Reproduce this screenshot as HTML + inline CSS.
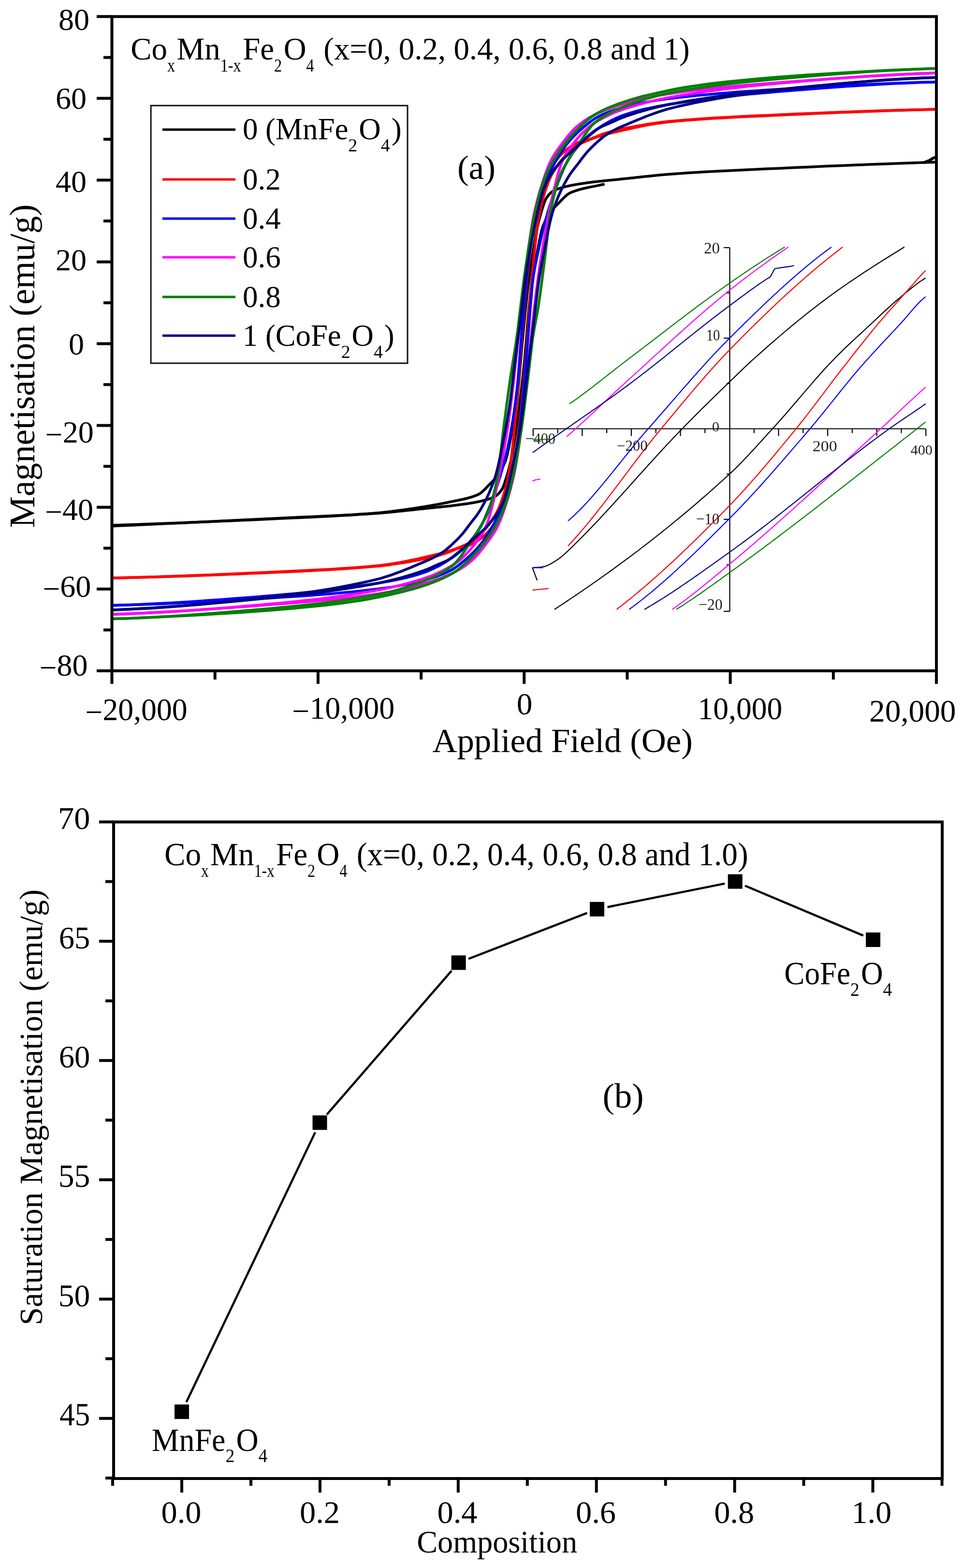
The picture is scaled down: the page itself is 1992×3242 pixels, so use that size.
<!DOCTYPE html>
<html><head><meta charset="utf-8"><title>Magnetisation figure</title>
<style>html,body{margin:0;padding:0;background:#fff;}svg{display:block;}</style></head>
<body><svg width="1992" height="3242" viewBox="0 0 1992 3242" style="font-family:'Liberation Serif','Times New Roman',serif;font-kerning:none">
<rect width="1992" height="3242" fill="#fff"/>
<polyline points="231.5,1086 252.1,1085.4 272.7,1084.7 293.3,1084 313.8,1083.2 334.4,1082.5 355,1081.7 375.6,1080.9 396.2,1080.1 416.8,1079.3 437.3,1078.4 457.9,1077.6 478.5,1076.7 499.1,1075.8 519.7,1074.9 540.3,1074 560.8,1073 581.4,1072.1 602,1071.1 622.6,1070.2 643.2,1069.2 663.8,1068.2 684.3,1067.2 704.9,1066.1 725.5,1064.9 746.1,1063.6 766.7,1062.3 787.3,1060.8 807.8,1058.9 828.4,1056.8 832.3,1056.4 836.1,1056 839.9,1055.6 843.7,1055.2 847.6,1054.8 851.4,1054.4 855.2,1053.9 859,1053.5 862.9,1053.1 866.7,1052.7 870.5,1052.3 874.3,1051.9 878.2,1051.5 882,1051.1 885.8,1050.7 889.6,1050.3 893.5,1049.9 897.3,1049.5 901.1,1049.1 905,1048.8 908.8,1048.4 912.6,1048 916.4,1047.6 920.3,1047.2 924.1,1046.8 927.9,1046.4 931.7,1046 935.6,1045.5 939.4,1045.1 943.2,1044.6 947,1044.1 950.9,1043.6 954.7,1043.1 958.5,1042.6 962.4,1042 966.2,1041.5 970,1040.9 973.8,1040.2 977.7,1039.6 978.5,1039.5 979.3,1039.3 980.1,1039.2 980.9,1039 981.8,1038.9 982.6,1038.7 983.4,1038.6 984.2,1038.4 985.1,1038.2 985.9,1038.1 986.7,1037.9 987.5,1037.7 988.4,1037.6 989.2,1037.4 990,1037.2 990.8,1037.1 991.6,1036.9 992.5,1036.7 993.3,1036.5 994.1,1036.3 994.9,1036.1 995.8,1035.9 996.6,1035.7 997.4,1035.5 998.2,1035.3 999.1,1035.1 999.9,1034.9 1000.7,1034.7 1001.5,1034.5 1002.3,1034.3 1003.2,1034.1 1004,1033.9 1004.8,1033.7 1005.6,1033.4 1006.5,1033.2 1007.3,1033 1008.1,1032.7 1008.9,1032.5 1009.8,1032.2 1010.6,1032 1011.4,1031.7 1012.2,1031.4 1013.1,1031.1 1013.9,1030.8 1014.7,1030.5 1015.5,1030.2 1016.3,1029.9 1017.2,1029.6 1018,1029.2 1018.8,1028.8 1019.6,1028.5 1020.5,1028.1 1021.3,1027.7 1022.1,1027.3 1022.9,1026.9 1023.8,1026.4 1024.6,1026 1025.4,1025.5 1026.2,1024.9 1027,1024.4 1027.9,1023.7 1028.7,1023.1 1029.5,1022.3 1030.3,1021.6 1031.2,1020.7 1032,1019.9 1032.8,1019 1033.6,1018 1034.5,1017 1035.3,1015.9 1036.1,1014.8 1036.9,1013.6 1037.7,1012.4 1038.6,1011.2 1039.4,1009.7 1040.2,1008 1041,1006.1 1041.9,1004 1042.7,1001.8 1043.5,999.5 1044.3,997 1045.2,994.5 1046,991.9 1046.8,989.3 1047.6,986.6 1048.4,984 1049.3,981.3 1050.1,978.4 1050.9,975.5 1051.7,972.5 1052.6,969.4 1053.4,966.2 1054.2,962.9 1055,959.5 1055.9,956 1056.7,952.4 1057.5,948.6 1058.3,944.8 1059.1,940.8 1060,936.6 1060.8,932.1 1061.6,927.5 1062.4,922.7 1063.3,917.7 1064.1,912.6 1064.9,907.3 1065.7,901.9 1066.6,896.4 1067.4,890.8 1068.2,885.2 1069,879.4 1069.8,873.6 1070.7,867.7 1071.5,861.7 1072.3,855.6 1073.1,849.4 1074,843 1074.8,836.6 1075.6,830 1076.4,823.4 1077.3,816.5 1078.1,809.6 1078.9,802.5 1079.7,795.3 1080.5,787.9 1081.4,780.4 1082.2,772.8 1083,764.9 1083.8,757 1084.7,748.7 1085.5,739.8 1086.3,730.4 1087.1,720.7 1088,711 1088.8,701.1 1089.6,691 1090.4,680.6 1091.2,670.3 1092.1,660.2 1092.9,650.5 1093.7,641.3 1094.5,632.7 1095.4,624.5 1096.2,616.3 1097,608 1097.8,599.8 1098.7,591.8 1099.5,584.4 1100.3,577.2 1101.1,570.9 1101.9,565.8 1102.8,561.1 1103.6,556.8 1104.4,552.8 1105.2,549 1106.1,545.4 1106.9,541.8 1107.7,538.3 1108.5,534.7 1109.4,531 1110.2,527.2 1111,523.1 1111.8,518.9 1112.6,514.7 1113.5,510.4 1114.3,506 1115.1,501.7 1115.9,497.4 1116.8,493.2 1117.6,489.2 1118.4,485.3 1119.2,481.6 1120.1,478.2 1120.9,475 1121.7,472.2 1122.5,469.7 1123.3,467.4 1124.2,465.3 1125,463.2 1125.8,461.2 1126.6,459.3 1127.5,457.5 1128.3,455.8 1129.1,454.1 1129.9,452.5 1130.8,450.9 1131.6,449.5 1132.4,448 1133.2,446.6 1134,445.3 1134.9,444 1135.7,442.8 1136.5,441.5 1137.3,440.3 1138.2,439.2 1139,438 1139.8,436.9 1140.6,435.9 1141.5,434.9 1142.3,433.9 1143.1,432.9 1143.9,432 1144.7,431 1145.6,430.1 1146.4,429.3 1147.2,428.4 1148,427.6 1148.9,426.7 1149.7,425.9 1150.5,425.1 1151.3,424.3 1152.2,423.4 1153,422.6 1153.8,421.8 1154.6,421 1155.4,420.1 1156.3,419.3 1157.1,418.4 1157.9,417.6 1158.7,416.7 1159.6,415.9 1160.4,415 1161.2,414.1 1162,413.2 1162.9,412.4 1163.7,411.5 1164.5,410.7 1165.3,409.8 1166.2,409 1167,408.2 1167.8,407.4 1168.6,406.6 1169.4,405.9 1170.3,405.1 1171.1,404.4 1171.9,403.7 1172.7,403 1173.6,402.4 1174.4,401.8 1175.2,401.2 1176,400.6 1176.9,400.1 1177.7,399.6 1178.5,399.2 1179.3,398.8 1180.1,398.4 1181,398.1 1181.8,397.7 1182.6,397.4 1183.4,397.1 1184.3,396.8 1185.1,396.4 1185.9,396.1 1186.7,395.8 1187.6,395.5 1188.4,395.2 1189.2,394.9 1190,394.6 1190.8,394.4 1194.7,393.1 1198.5,392 1202.3,390.9 1206.1,390 1210,389.1 1213.8,388.2 1217.6,387.4 1221.5,386.6 1225.3,385.9 1229.1,385.1 1232.9,384.4 1236.8,383.6 1240.6,382.8 1244.4,382 1248.2,381.3 1250.5,380.8" fill="none" stroke="#000000" stroke-width="5.5" stroke-linejoin="round" />
<polyline points="231.5,1087.7 252.1,1086.8 272.7,1085.9 293.3,1085 313.8,1084 334.4,1083.1 355,1082.1 375.6,1081.2 396.2,1080.2 416.8,1079.2 437.3,1078.3 457.9,1077.3 478.5,1076.3 499.1,1075.3 519.7,1074.3 540.3,1073.2 560.8,1072.2 581.4,1071.2 602,1070.2 622.6,1069.3 643.2,1068.4 663.8,1067.5 684.3,1066.5 704.9,1065.5 725.5,1064.4 746.1,1063.1 766.7,1061.7 787.3,1060 807.8,1057.8 828.4,1055.1 832.3,1054.6 836.1,1054 839.9,1053.4 843.7,1052.9 847.6,1052.3 851.4,1051.7 855.2,1051.2 859,1050.6 862.9,1050 866.7,1049.4 870.5,1048.8 874.3,1048.2 878.2,1047.6 882,1047 885.8,1046.3 889.6,1045.7 893.5,1045 897.3,1044.3 901.1,1043.6 905,1042.9 908.8,1042.2 912.6,1041.5 916.4,1040.7 920.3,1039.9 924.1,1039.2 927.9,1038.4 931.7,1037.6 935.6,1036.8 939.4,1036.1 943.2,1035.3 947,1034.6 950.9,1033.8 954.7,1033 958.5,1032.1 962.4,1031.2 966.2,1030.3 970,1029.2 973.8,1028.1 977.7,1026.8 978.5,1026.6 979.3,1026.3 980.1,1026 980.9,1025.7 981.8,1025.4 982.6,1025.1 983.4,1024.8 984.2,1024.4 985.1,1024.1 985.9,1023.8 986.7,1023.5 987.5,1023.1 988.4,1022.8 989.2,1022.4 990,1022 990.8,1021.6 991.6,1021.1 992.5,1020.6 993.3,1020 994.1,1019.4 994.9,1018.8 995.8,1018.2 996.6,1017.5 997.4,1016.8 998.2,1016.1 999.1,1015.3 999.9,1014.6 1000.7,1013.8 1001.5,1013 1002.3,1012.2 1003.2,1011.4 1004,1010.5 1004.8,1009.7 1005.6,1008.8 1006.5,1008 1007.3,1007.1 1008.1,1006.2 1008.9,1005.3 1009.8,1004.5 1010.6,1003.6 1011.4,1002.8 1012.2,1001.9 1013.1,1001.1 1013.9,1000.2 1014.7,999.4 1015.5,998.6 1016.3,997.8 1017.2,996.9 1018,996.1 1018.8,995.3 1019.6,994.5 1020.5,993.6 1021.3,992.8 1022.1,991.9 1022.9,991.1 1023.8,990.2 1024.6,989.2 1025.4,988.3 1026.2,987.3 1027,986.3 1027.9,985.3 1028.7,984.3 1029.5,983.2 1030.3,982 1031.2,980.9 1032,979.7 1032.8,978.4 1033.6,977.2 1034.5,975.9 1035.3,974.6 1036.1,973.2 1036.9,971.7 1037.7,970.3 1038.6,968.7 1039.4,967.1 1040.2,965.4 1041,963.7 1041.9,961.9 1042.7,960 1043.5,958 1044.3,955.9 1045.2,953.8 1046,951.5 1046.8,949.1 1047.6,946.3 1048.4,943.3 1049.3,940 1050.1,936.5 1050.9,932.7 1051.7,928.8 1052.6,924.8 1053.4,920.6 1054.2,916.3 1055,912 1055.9,907.6 1056.7,903.1 1057.5,898.7 1058.3,894.2 1059.1,889.7 1060,884.3 1060.8,878.3 1061.6,872 1062.4,865.5 1063.3,859.3 1064.1,853.5 1064.9,848.4 1065.7,844.3 1066.6,841.4 1067.4,840.1 1068.2,839.2 1069,834.8 1069.8,828.4 1070.7,820 1071.5,811.2 1072.3,802 1073.1,792.7 1074,783.1 1074.8,773.3 1075.6,763.5 1076.4,753.7 1077.3,743.9 1078.1,734.2 1078.9,724.6 1079.7,715.3 1080.5,706.2 1081.4,697.2 1082.2,688.5 1083,679.8 1083.8,671.2 1084.7,662.6 1085.5,654 1086.3,645.8 1087.1,637.9 1088,630.2 1088.8,622.6 1089.6,615.1 1090.4,607.8 1091.2,600.8 1092.1,593.9 1092.9,587.3 1093.7,580.9 1094.5,574.8 1095.4,568.8 1096.2,562.9 1097,557.2 1097.8,551.6 1098.7,546.1 1099.5,540.7 1100.3,535.3 1101.1,529.9 1101.9,524.5 1102.8,519.1 1103.6,513.8 1104.4,508.6 1105.2,503.5 1106.1,498.5 1106.9,493.7 1107.7,489.1 1108.5,484.6 1109.4,480.4 1110.2,476.4 1111,472.6 1111.8,468.9 1112.6,465.2 1113.5,461.7 1114.3,458.3 1115.1,455 1115.9,451.8 1116.8,448.7 1117.6,445.7 1118.4,442.8 1119.2,439.9 1120.1,437.2 1120.9,434.6 1121.7,431.9 1122.5,429.3 1123.3,426.7 1124.2,424.2 1125,421.7 1125.8,419.4 1126.6,417.2 1127.5,415.1 1128.3,413.2 1129.1,411.5 1129.9,410 1130.8,408.8 1131.6,407.6 1132.4,406.4 1133.2,405.3 1134,404.2 1134.9,403.2 1135.7,402.2 1136.5,401.3 1137.3,400.5 1138.2,399.6 1139,398.9 1139.8,398.1 1140.6,397.5 1141.5,396.8 1142.3,396.3 1143.1,395.7 1143.9,395.2 1144.7,394.8 1145.6,394.3 1146.4,393.9 1147.2,393.5 1148,393.1 1148.9,392.7 1149.7,392.4 1150.5,392 1151.3,391.6 1152.2,391.3 1153,391 1153.8,390.7 1154.6,390.4 1155.4,390.1 1156.3,389.8 1157.1,389.5 1157.9,389.2 1158.7,389 1159.6,388.7 1160.4,388.5 1161.2,388.2 1162,388 1162.9,387.8 1163.7,387.5 1164.5,387.3 1165.3,387.1 1166.2,386.9 1167,386.7 1167.8,386.5 1168.6,386.3 1169.4,386.1 1170.3,385.9 1171.1,385.7 1171.9,385.5 1172.7,385.3 1173.6,385.1 1174.4,384.9 1175.2,384.7 1176,384.5 1176.9,384.3 1177.7,384.1 1178.5,384 1179.3,383.8 1180.1,383.6 1181,383.5 1181.8,383.3 1182.6,383.1 1183.4,383 1184.3,382.8 1185.1,382.6 1185.9,382.5 1186.7,382.3 1187.6,382.2 1188.4,382 1189.2,381.9 1190,381.7 1190.8,381.6 1194.7,381 1198.5,380.3 1202.3,379.7 1206.1,379.2 1210,378.6 1213.8,378.1 1217.6,377.6 1221.5,377.1 1225.3,376.6 1229.1,376.1 1232.9,375.7 1236.8,375.2 1240.6,374.8 1244.4,374.4 1248.2,374 1252.1,373.6 1255.9,373.2 1259.7,372.8 1263.5,372.4 1267.4,372.1 1271.2,371.7 1275,371.3 1278.9,370.9 1282.7,370.5 1286.5,370.1 1290.3,369.7 1294.2,369.3 1298,368.9 1301.8,368.5 1305.6,368.1 1309.5,367.7 1313.3,367.3 1317.1,366.8 1320.9,366.4 1324.8,366 1328.6,365.6 1332.4,365.2 1336.2,364.8 1340.1,364.4 1360.7,362.3 1381.2,360.4 1401.8,358.9 1422.4,357.6 1443,356.3 1463.6,355.1 1484.2,354 1504.7,353 1525.3,352 1545.9,351 1566.5,350.1 1587.1,349.1 1607.7,348.2 1628.2,347.2 1648.8,346.3 1669.4,345.4 1690,344.5 1710.6,343.6 1731.2,342.8 1751.7,341.9 1772.3,341.1 1792.9,340.3 1813.5,339.5 1834.1,338.7 1854.7,338 1875.2,337.2 1895.8,336.5 1916.4,335.8 1937,335.2" fill="none" stroke="#000000" stroke-width="5.5" stroke-linejoin="round" />
<polyline points="231.5,1195.1 252.1,1194.7 272.7,1194.2 293.3,1193.7 313.8,1193.2 334.4,1192.6 355,1191.9 375.6,1191.2 396.2,1190.5 416.8,1189.8 437.3,1189 457.9,1188.2 478.5,1187.3 499.1,1186.5 519.7,1185.6 540.3,1184.7 560.8,1183.8 581.4,1182.8 602,1181.9 622.6,1180.9 643.2,1179.9 663.8,1178.8 684.3,1177.7 704.9,1176.4 725.5,1175 746.1,1173.5 766.7,1171.8 787.3,1169.9 807.8,1167.4 828.4,1164.4 832.3,1163.8 836.1,1163.2 839.9,1162.5 843.7,1161.9 847.6,1161.2 851.4,1160.5 855.2,1159.8 859,1159.1 862.9,1158.4 866.7,1157.7 870.5,1156.9 874.3,1156.2 878.2,1155.4 882,1154.6 885.8,1153.8 889.6,1152.9 893.5,1152 897.3,1151 901.1,1150 905,1149 908.8,1147.9 912.6,1146.8 916.4,1145.7 920.3,1144.5 924.1,1143.1 927.9,1141.6 931.7,1140.1 935.6,1138.5 939.4,1136.9 943.2,1135.3 947,1133.9 950.9,1132.5 954.7,1131.4 958.5,1130.4 962.4,1129.6 966.2,1128.7 970,1127.6 973.8,1126.1 977.7,1124.3 978.5,1123.9 979.3,1123.5 980.1,1123 980.9,1122.6 981.8,1122.1 982.6,1121.6 983.4,1121.1 984.2,1120.6 985.1,1120.1 985.9,1119.6 986.7,1119.1 987.5,1118.5 988.4,1118 989.2,1117.4 990,1116.9 990.8,1116.3 991.6,1115.7 992.5,1115.1 993.3,1114.5 994.1,1113.9 994.9,1113.3 995.8,1112.7 996.6,1112 997.4,1111.4 998.2,1110.7 999.1,1110 999.9,1109.3 1000.7,1108.6 1001.5,1107.8 1002.3,1107.1 1003.2,1106.3 1004,1105.6 1004.8,1104.8 1005.6,1103.9 1006.5,1103.1 1007.3,1102.3 1008.1,1101.4 1008.9,1100.5 1009.8,1099.6 1010.6,1098.6 1011.4,1097.7 1012.2,1096.7 1013.1,1095.7 1013.9,1094.7 1014.7,1093.7 1015.5,1092.6 1016.3,1091.5 1017.2,1090.4 1018,1089.3 1018.8,1088.1 1019.6,1086.9 1020.5,1085.6 1021.3,1084.2 1022.1,1082.8 1022.9,1081.3 1023.8,1079.7 1024.6,1078 1025.4,1076.2 1026.2,1074.5 1027,1072.6 1027.9,1070.7 1028.7,1068.8 1029.5,1066.8 1030.3,1064.8 1031.2,1062.8 1032,1060.7 1032.8,1058.6 1033.6,1056.5 1034.5,1054.4 1035.3,1052.3 1036.1,1050.2 1036.9,1048.1 1037.7,1046 1038.6,1043.9 1039.4,1041.8 1040.2,1039.6 1041,1037.5 1041.9,1035.3 1042.7,1033 1043.5,1030.8 1044.3,1028.5 1045.2,1026.1 1046,1023.7 1046.8,1021.3 1047.6,1018.8 1048.4,1016.2 1049.3,1013.6 1050.1,1010.9 1050.9,1008.2 1051.7,1005.4 1052.6,1002.6 1053.4,999.8 1054.2,996.9 1055,993.9 1055.9,990.8 1056.7,987.7 1057.5,984.5 1058.3,981.1 1059.1,977.7 1060,974.1 1060.8,970.4 1061.6,966.5 1062.4,962.5 1063.3,958.3 1064.1,953.9 1064.9,949.1 1065.7,944.1 1066.6,938.9 1067.4,933.4 1068.2,927.7 1069,921.8 1069.8,915.7 1070.7,909.5 1071.5,903.1 1072.3,896.6 1073.1,890 1074,883.3 1074.8,876.5 1075.6,869.4 1076.4,862.1 1077.3,854.6 1078.1,846.8 1078.9,838.8 1079.7,830.5 1080.5,822.1 1081.4,813.5 1082.2,804.8 1083,795.9 1083.8,786.9 1084.7,777.7 1085.5,768.1 1086.3,758.3 1087.1,748.1 1088,737.6 1088.8,727 1089.6,716.3 1090.4,705.4 1091.2,694 1092.1,682.4 1092.9,670.7 1093.7,659.1 1094.5,647.7 1095.4,636.5 1096.2,625.3 1097,614.5 1097.8,604.1 1098.7,594.2 1099.5,584.3 1100.3,574.3 1101.1,564.6 1101.9,556 1102.8,547.5 1103.6,539.2 1104.4,531 1105.2,523 1106.1,515.2 1106.9,507.5 1107.7,500.1 1108.5,493 1109.4,486.1 1110.2,479.5 1111,473.2 1111.8,467.2 1112.6,461.6 1113.5,456.4 1114.3,451.6 1115.1,447 1115.9,442.6 1116.8,438.4 1117.6,434.3 1118.4,430.4 1119.2,426.6 1120.1,423 1120.9,419.5 1121.7,416.1 1122.5,412.9 1123.3,409.8 1124.2,406.8 1125,404 1125.8,401.2 1126.6,398.5 1127.5,396 1128.3,393.4 1129.1,391 1129.9,388.6 1130.8,386.2 1131.6,383.9 1132.4,381.6 1133.2,379.4 1134,377.3 1134.9,375.2 1135.7,373.2 1136.5,371.2 1137.3,369.3 1138.2,367.5 1139,365.7 1139.8,364 1140.6,362.4 1141.5,360.8 1142.3,359.3 1143.1,357.9 1143.9,356.5 1144.7,355.2 1145.6,353.9 1146.4,352.6 1147.2,351.3 1148,350.1 1148.9,348.8 1149.7,347.6 1150.5,346.4 1151.3,345.2 1152.2,344 1153,342.8 1153.8,341.6 1154.6,340.5 1155.4,339.4 1156.3,338.2 1157.1,337.1 1157.9,336 1158.7,334.9 1159.6,333.8 1160.4,332.8 1161.2,331.7 1162,330.7 1162.9,329.6 1163.7,328.6 1164.5,327.6 1165.3,326.6 1166.2,325.7 1167,324.7 1167.8,323.8 1168.6,322.8 1169.4,321.9 1170.3,321 1171.1,320.1 1171.9,319.2 1172.7,318.4 1173.6,317.5 1174.4,316.7 1175.2,315.9 1176,315 1176.9,314.3 1177.7,313.5 1178.5,312.7 1179.3,311.9 1180.1,311.2 1181,310.5 1181.8,309.8 1182.6,309.1 1183.4,308.4 1184.3,307.7 1185.1,307 1185.9,306.4 1186.7,305.8 1187.6,305.2 1188.4,304.6 1189.2,304 1190,303.4 1190.8,302.9 1194.7,300.5 1198.5,298.4 1202.3,296.4 1206.1,294.6 1210,292.9 1213.8,291.2 1217.6,289.6 1221.5,288.1 1225.3,286.7 1229.1,285.3 1232.9,284 1236.8,282.7 1240.6,281.5 1244.4,280.4 1248.2,279.3 1252.1,278.2 1255.9,277.2 1259.7,276.2 1263.5,275.2 1267.4,274.3 1271.2,273.4 1275,272.5 1278.9,271.6 1282.7,270.7 1286.5,269.8 1290.3,268.9 1294.2,268 1298,267.2 1301.8,266.3 1305.6,265.5 1309.5,264.6 1313.3,263.8 1317.1,263 1320.9,262.2 1324.8,261.4 1328.6,260.6 1332.4,259.9 1336.2,259.1 1340.1,258.4 1360.7,254.9 1381.2,252.2 1401.8,250.2 1422.4,248.5 1443,246.9 1463.6,245.6 1484.2,244.3 1504.7,243.2 1525.3,242.1 1545.9,241.1 1566.5,240.2 1587.1,239.2 1607.7,238.3 1628.2,237.3 1648.8,236.4 1669.4,235.4 1690,234.5 1710.6,233.7 1731.2,232.8 1751.7,232 1772.3,231.2 1792.9,230.4 1813.5,229.7 1834.1,229 1854.7,228.3 1875.2,227.7 1895.8,227.1 1916.4,226.6 1937,226.1" fill="none" stroke="#ff0000" stroke-width="5.5" stroke-linejoin="round" />
<polyline points="231.5,1195.1 252.1,1194.6 272.7,1194.1 293.3,1193.5 313.8,1192.9 334.4,1192.2 355,1191.5 375.6,1190.8 396.2,1190 416.8,1189.2 437.3,1188.4 457.9,1187.5 478.5,1186.7 499.1,1185.8 519.7,1184.8 540.3,1183.9 560.8,1182.9 581.4,1182 602,1181 622.6,1180.1 643.2,1179.1 663.8,1178 684.3,1176.9 704.9,1175.6 725.5,1174.3 746.1,1172.7 766.7,1171 787.3,1169 807.8,1166.3 828.4,1162.8 832.3,1162.1 836.1,1161.3 839.9,1160.6 843.7,1159.8 847.6,1159 851.4,1158.2 855.2,1157.4 859,1156.6 862.9,1155.7 866.7,1154.9 870.5,1154 874.3,1153.2 878.2,1152.3 882,1151.4 885.8,1150.5 889.6,1149.6 893.5,1148.7 897.3,1147.8 901.1,1146.9 905,1146 908.8,1145 912.6,1144 916.4,1143 920.3,1141.9 924.1,1140.8 927.9,1139.7 931.7,1138.5 935.6,1137.2 939.4,1135.9 943.2,1134.5 947,1133.1 950.9,1131.6 954.7,1130 958.5,1128.3 962.4,1126.6 966.2,1124.8 970,1122.8 973.8,1120.7 977.7,1118.3 978.5,1117.8 979.3,1117.2 980.1,1116.6 980.9,1116 981.8,1115.4 982.6,1114.8 983.4,1114.2 984.2,1113.5 985.1,1112.8 985.9,1112.1 986.7,1111.4 987.5,1110.7 988.4,1110 989.2,1109.3 990,1108.5 990.8,1107.7 991.6,1106.9 992.5,1106.2 993.3,1105.3 994.1,1104.5 994.9,1103.7 995.8,1102.8 996.6,1102 997.4,1101.1 998.2,1100.2 999.1,1099.3 999.9,1098.4 1000.7,1097.4 1001.5,1096.5 1002.3,1095.5 1003.2,1094.6 1004,1093.6 1004.8,1092.6 1005.6,1091.6 1006.5,1090.5 1007.3,1089.5 1008.1,1088.4 1008.9,1087.4 1009.8,1086.3 1010.6,1085.2 1011.4,1084.1 1012.2,1083 1013.1,1081.8 1013.9,1080.7 1014.7,1079.6 1015.5,1078.4 1016.3,1077.2 1017.2,1076 1018,1074.8 1018.8,1073.6 1019.6,1072.4 1020.5,1071.1 1021.3,1069.9 1022.1,1068.6 1022.9,1067.3 1023.8,1066 1024.6,1064.7 1025.4,1063.3 1026.2,1061.9 1027,1060.4 1027.9,1058.8 1028.7,1057.2 1029.5,1055.5 1030.3,1053.7 1031.2,1051.9 1032,1050 1032.8,1048 1033.6,1046 1034.5,1043.9 1035.3,1041.8 1036.1,1039.6 1036.9,1037.3 1037.7,1035 1038.6,1032.6 1039.4,1030.2 1040.2,1027.8 1041,1025.2 1041.9,1022.7 1042.7,1020 1043.5,1017.3 1044.3,1014.4 1045.2,1011.5 1046,1008.4 1046.8,1005.2 1047.6,1001.9 1048.4,998.4 1049.3,994.8 1050.1,991 1050.9,987.1 1051.7,983 1052.6,978.7 1053.4,974.3 1054.2,969.6 1055,964.7 1055.9,959.4 1056.7,953.6 1057.5,947.5 1058.3,941 1059.1,934.2 1060,927 1060.8,919.6 1061.6,911.8 1062.4,903.9 1063.3,895.6 1064.1,887.2 1064.9,878.6 1065.7,869.8 1066.6,860.9 1067.4,851.9 1068.2,842.7 1069,833.5 1069.8,824.3 1070.7,814.8 1071.5,804.8 1072.3,794 1073.1,782.8 1074,771.3 1074.8,759.6 1075.6,747.8 1076.4,736.1 1077.3,724.7 1078.1,713.7 1078.9,703 1079.7,692.4 1080.5,681.8 1081.4,671.3 1082.2,661.1 1083,651.2 1083.8,641.6 1084.7,632.5 1085.5,623.5 1086.3,614.7 1087.1,606.1 1088,597.6 1088.8,589.3 1089.6,581.2 1090.4,573.3 1091.2,565.6 1092.1,558.1 1092.9,550.9 1093.7,543.9 1094.5,537.2 1095.4,530.6 1096.2,524 1097,517.6 1097.8,511.3 1098.7,505.1 1099.5,499.1 1100.3,493.3 1101.1,487.6 1101.9,482.2 1102.8,477 1103.6,472 1104.4,467.3 1105.2,462.9 1106.1,458.7 1106.9,454.7 1107.7,450.9 1108.5,447.1 1109.4,443.6 1110.2,440.1 1111,436.8 1111.8,433.5 1112.6,430.4 1113.5,427.3 1114.3,424.4 1115.1,421.4 1115.9,418.6 1116.8,415.8 1117.6,413 1118.4,410.3 1119.2,407.6 1120.1,405 1120.9,402.4 1121.7,399.9 1122.5,397.5 1123.3,395.1 1124.2,392.7 1125,390.4 1125.8,388.2 1126.6,385.9 1127.5,383.7 1128.3,381.6 1129.1,379.4 1129.9,377.3 1130.8,375.2 1131.6,373.1 1132.4,371 1133.2,368.9 1134,366.8 1134.9,364.7 1135.7,362.6 1136.5,360.5 1137.3,358.4 1138.2,356.4 1139,354.4 1139.8,352.4 1140.6,350.5 1141.5,348.6 1142.3,346.7 1143.1,345 1143.9,343.2 1144.7,341.5 1145.6,339.9 1146.4,338.4 1147.2,337 1148,335.6 1148.9,334.3 1149.7,333.1 1150.5,331.9 1151.3,330.8 1152.2,329.7 1153,328.6 1153.8,327.5 1154.6,326.5 1155.4,325.5 1156.3,324.5 1157.1,323.5 1157.9,322.6 1158.7,321.6 1159.6,320.7 1160.4,319.8 1161.2,318.9 1162,318.1 1162.9,317.3 1163.7,316.4 1164.5,315.6 1165.3,314.9 1166.2,314.1 1167,313.4 1167.8,312.6 1168.6,311.9 1169.4,311.2 1170.3,310.5 1171.1,309.8 1171.9,309.2 1172.7,308.5 1173.6,307.9 1174.4,307.3 1175.2,306.7 1176,306.1 1176.9,305.5 1177.7,304.9 1178.5,304.3 1179.3,303.8 1180.1,303.2 1181,302.7 1181.8,302.1 1182.6,301.6 1183.4,301.1 1184.3,300.6 1185.1,300.1 1185.9,299.6 1186.7,299.1 1187.6,298.6 1188.4,298.2 1189.2,297.7 1190,297.3 1190.8,296.9 1194.7,295.1 1198.5,293.6 1202.3,292.5 1206.1,291.6 1210,290.8 1213.8,289.8 1217.6,288.7 1221.5,287.3 1225.3,285.9 1229.1,284.3 1232.9,282.7 1236.8,281.1 1240.6,279.6 1244.4,278.1 1248.2,276.7 1252.1,275.5 1255.9,274.4 1259.7,273.3 1263.5,272.2 1267.4,271.2 1271.2,270.2 1275,269.2 1278.9,268.3 1282.7,267.4 1286.5,266.6 1290.3,265.8 1294.2,265 1298,264.3 1301.8,263.5 1305.6,262.8 1309.5,262.1 1313.3,261.4 1317.1,260.7 1320.9,260 1324.8,259.3 1328.6,258.7 1332.4,258 1336.2,257.4 1340.1,256.8 1360.7,253.8 1381.2,251.3 1401.8,249.4 1422.4,247.7 1443,246.2 1463.6,244.8 1484.2,243.5 1504.7,242.4 1525.3,241.3 1545.9,240.3 1566.5,239.3 1587.1,238.4 1607.7,237.4 1628.2,236.5 1648.8,235.6 1669.4,234.7 1690,233.9 1710.6,233 1731.2,232.2 1751.7,231.4 1772.3,230.7 1792.9,230 1813.5,229.3 1834.1,228.6 1854.7,228 1875.2,227.5 1895.8,227 1916.4,226.5 1937,226.1" fill="none" stroke="#ff0000" stroke-width="5.5" stroke-linejoin="round" />
<polyline points="231.5,1251.7 252.1,1251.2 272.7,1250.6 293.3,1249.9 313.8,1249.2 334.4,1248.4 355,1247.5 375.6,1246.6 396.2,1245.6 416.8,1244.6 437.3,1243.5 457.9,1242.4 478.5,1241.3 499.1,1240.1 519.7,1238.9 540.3,1237.6 560.8,1236.4 581.4,1235.1 602,1233.8 622.6,1232.4 643.2,1230.9 663.8,1229.3 684.3,1227.7 704.9,1225.8 725.5,1223.9 746.1,1221.8 766.7,1219.5 787.3,1217 807.8,1214.1 828.4,1210.6 832.3,1209.9 836.1,1209.2 839.9,1208.4 843.7,1207.7 847.6,1206.9 851.4,1206 855.2,1205.2 859,1204.4 862.9,1203.5 866.7,1202.6 870.5,1201.7 874.3,1200.7 878.2,1199.7 882,1198.7 885.8,1197.6 889.6,1196.4 893.5,1195.2 897.3,1194 901.1,1192.6 905,1191.3 908.8,1189.8 912.6,1188.3 916.4,1186.8 920.3,1185.1 924.1,1183.4 927.9,1181.6 931.7,1179.7 935.6,1177.6 939.4,1175.1 943.2,1172.5 947,1169.7 950.9,1166.7 954.7,1163.7 958.5,1160.5 962.4,1157.4 966.2,1154.1 970,1150.7 973.8,1147.2 977.7,1143.5 978.5,1142.7 979.3,1141.9 980.1,1141.1 980.9,1140.2 981.8,1139.4 982.6,1138.5 983.4,1137.6 984.2,1136.8 985.1,1135.9 985.9,1135 986.7,1134.1 987.5,1133.2 988.4,1132.2 989.2,1131.3 990,1130.3 990.8,1129.4 991.6,1128.4 992.5,1127.4 993.3,1126.4 994.1,1125.4 994.9,1124.4 995.8,1123.4 996.6,1122.3 997.4,1121.3 998.2,1120.2 999.1,1119.1 999.9,1118 1000.7,1116.9 1001.5,1115.8 1002.3,1114.6 1003.2,1113.4 1004,1112.3 1004.8,1111.1 1005.6,1109.9 1006.5,1108.7 1007.3,1107.4 1008.1,1106.2 1008.9,1104.9 1009.8,1103.6 1010.6,1102.3 1011.4,1101 1012.2,1099.7 1013.1,1098.3 1013.9,1097 1014.7,1095.6 1015.5,1094.2 1016.3,1092.8 1017.2,1091.3 1018,1089.9 1018.8,1088.4 1019.6,1086.9 1020.5,1085.4 1021.3,1083.9 1022.1,1082.3 1022.9,1080.8 1023.8,1079.2 1024.6,1077.6 1025.4,1076 1026.2,1074.3 1027,1072.7 1027.9,1071 1028.7,1069.3 1029.5,1067.6 1030.3,1065.8 1031.2,1064.1 1032,1062.3 1032.8,1060.5 1033.6,1058.6 1034.5,1056.7 1035.3,1054.7 1036.1,1052.7 1036.9,1050.6 1037.7,1048.4 1038.6,1046.2 1039.4,1044 1040.2,1041.7 1041,1039.3 1041.9,1036.9 1042.7,1034.5 1043.5,1032 1044.3,1029.5 1045.2,1026.9 1046,1024.3 1046.8,1021.7 1047.6,1019.1 1048.4,1016.4 1049.3,1013.7 1050.1,1010.9 1050.9,1008.1 1051.7,1005.3 1052.6,1002.5 1053.4,999.6 1054.2,996.6 1055,993.6 1055.9,990.5 1056.7,987.3 1057.5,984.1 1058.3,980.7 1059.1,977.3 1060,973.7 1060.8,970.1 1061.6,966.3 1062.4,962.4 1063.3,958.4 1064.1,954.2 1064.9,949.9 1065.7,945.3 1066.6,940.6 1067.4,935.8 1068.2,930.8 1069,925.6 1069.8,920.3 1070.7,914.8 1071.5,909.2 1072.3,903.4 1073.1,897.4 1074,891.3 1074.8,885.1 1075.6,878.7 1076.4,872 1077.3,864.9 1078.1,857.5 1078.9,849.8 1079.7,841.7 1080.5,833.5 1081.4,825 1082.2,816.4 1083,807.7 1083.8,798.8 1084.7,789.9 1085.5,780.7 1086.3,771.2 1087.1,761.5 1088,751.5 1088.8,741.4 1089.6,731.2 1090.4,720.9 1091.2,710.5 1092.1,699.9 1092.9,689 1093.7,677.9 1094.5,667 1095.4,656.4 1096.2,646.3 1097,636.6 1097.8,627.1 1098.7,617.7 1099.5,607.9 1100.3,597.6 1101.1,588.7 1101.9,582.1 1102.8,575.9 1103.6,570.2 1104.4,564.8 1105.2,559.8 1106.1,555.1 1106.9,550.6 1107.7,546.3 1108.5,542.2 1109.4,538.3 1110.2,534.4 1111,530.6 1111.8,526.8 1112.6,523 1113.5,519.1 1114.3,515.2 1115.1,511.2 1115.9,507.3 1116.8,503.5 1117.6,499.7 1118.4,496 1119.2,492.3 1120.1,488.7 1120.9,485.2 1121.7,481.7 1122.5,478.2 1123.3,474.9 1124.2,471.6 1125,468.4 1125.8,465.2 1126.6,462.1 1127.5,459.1 1128.3,456.1 1129.1,453.1 1129.9,450.2 1130.8,447.3 1131.6,444.4 1132.4,441.6 1133.2,438.8 1134,436 1134.9,433.3 1135.7,430.6 1136.5,427.9 1137.3,425.3 1138.2,422.7 1139,420.1 1139.8,417.6 1140.6,415.1 1141.5,412.6 1142.3,410.2 1143.1,407.8 1143.9,405.4 1144.7,403 1145.6,400.7 1146.4,398.4 1147.2,396.2 1148,394 1148.9,391.8 1149.7,389.6 1150.5,387.4 1151.3,385.2 1152.2,383 1153,380.9 1153.8,378.7 1154.6,376.6 1155.4,374.4 1156.3,372.3 1157.1,370.2 1157.9,368.1 1158.7,366.1 1159.6,364 1160.4,362 1161.2,360 1162,358 1162.9,356 1163.7,354.1 1164.5,352.2 1165.3,350.3 1166.2,348.4 1167,346.6 1167.8,344.8 1168.6,343.1 1169.4,341.4 1170.3,339.7 1171.1,338.1 1171.9,336.5 1172.7,334.9 1173.6,333.4 1174.4,331.9 1175.2,330.5 1176,329.1 1176.9,327.8 1177.7,326.5 1178.5,325.2 1179.3,324 1180.1,322.8 1181,321.6 1181.8,320.4 1182.6,319.2 1183.4,318.1 1184.3,316.9 1185.1,315.8 1185.9,314.7 1186.7,313.6 1187.6,312.5 1188.4,311.4 1189.2,310.3 1190,309.2 1190.8,308.2 1194.7,303.5 1198.5,299 1202.3,294.8 1206.1,290.7 1210,287 1213.8,283.4 1217.6,280 1221.5,276.8 1225.3,273.8 1229.1,271 1232.9,268.3 1236.8,265.7 1240.6,263.2 1244.4,260.7 1248.2,258.4 1252.1,256.1 1255.9,253.9 1259.7,251.7 1263.5,249.7 1267.4,247.8 1271.2,245.9 1275,244.1 1278.9,242.4 1282.7,240.8 1286.5,239.3 1290.3,237.8 1294.2,236.5 1298,235.3 1301.8,234.1 1305.6,232.9 1309.5,231.8 1313.3,230.7 1317.1,229.7 1320.9,228.7 1324.8,227.7 1328.6,226.7 1332.4,225.8 1336.2,225 1340.1,224.1 1360.7,219.9 1381.2,216.3 1401.8,213 1422.4,209.9 1443,207 1463.6,204.3 1484.2,201.8 1504.7,199.4 1525.3,197.2 1545.9,195.1 1566.5,193.2 1587.1,191.4 1607.7,189.6 1628.2,187.9 1648.8,186.3 1669.4,184.7 1690,183.1 1710.6,181.5 1731.2,180.1 1751.7,178.6 1772.3,177.3 1792.9,176 1813.5,174.8 1834.1,173.6 1854.7,172.6 1875.2,171.7 1895.8,170.8 1916.4,170.1 1937,169.5" fill="none" stroke="#0000ff" stroke-width="5.5" stroke-linejoin="round" />
<polyline points="231.5,1251.7 252.1,1251.1 272.7,1250.4 293.3,1249.5 313.8,1248.6 334.4,1247.6 355,1246.4 375.6,1245.2 396.2,1243.9 416.8,1242.6 437.3,1241.1 457.9,1239.7 478.5,1238.1 499.1,1236.5 519.7,1234.9 540.3,1233.3 560.8,1231.6 581.4,1229.8 602,1228 622.6,1226.1 643.2,1224 663.8,1221.8 684.3,1219.4 704.9,1216.9 725.5,1214.2 746.1,1211.3 766.7,1208.2 787.3,1204.9 807.8,1201.3 828.4,1197.1 832.3,1196.2 836.1,1195.4 839.9,1194.5 843.7,1193.5 847.6,1192.5 851.4,1191.5 855.2,1190.5 859,1189.4 862.9,1188.3 866.7,1187.1 870.5,1185.9 874.3,1184.7 878.2,1183.4 882,1181.9 885.8,1180.4 889.6,1178.8 893.5,1177.1 897.3,1175.3 901.1,1173.4 905,1171.5 908.8,1169.5 912.6,1167.3 916.4,1165.1 920.3,1162.8 924.1,1160.5 927.9,1158 931.7,1155.5 935.6,1152.9 939.4,1150.2 943.2,1147.4 947,1144.4 950.9,1141.2 954.7,1137.8 958.5,1134.2 962.4,1130.5 966.2,1126.4 970,1122.2 973.8,1117.7 977.7,1113 978.5,1112 979.3,1110.9 980.1,1109.8 980.9,1108.7 981.8,1107.6 982.6,1106.5 983.4,1105.4 984.2,1104.3 985.1,1103.1 985.9,1102 986.7,1100.8 987.5,1099.6 988.4,1098.4 989.2,1097.2 990,1096 990.8,1094.7 991.6,1093.4 992.5,1092.1 993.3,1090.7 994.1,1089.3 994.9,1087.8 995.8,1086.3 996.6,1084.7 997.4,1083.1 998.2,1081.5 999.1,1079.8 999.9,1078.1 1000.7,1076.4 1001.5,1074.6 1002.3,1072.8 1003.2,1070.9 1004,1069 1004.8,1067.1 1005.6,1065.2 1006.5,1063.2 1007.3,1061.2 1008.1,1059.2 1008.9,1057.2 1009.8,1055.1 1010.6,1053.1 1011.4,1051 1012.2,1048.9 1013.1,1046.8 1013.9,1044.6 1014.7,1042.5 1015.5,1040.3 1016.3,1038.2 1017.2,1036 1018,1033.8 1018.8,1031.6 1019.6,1029.4 1020.5,1027.2 1021.3,1025 1022.1,1022.8 1022.9,1020.5 1023.8,1018.2 1024.6,1015.8 1025.4,1013.4 1026.2,1011 1027,1008.6 1027.9,1006.1 1028.7,1003.6 1029.5,1001.1 1030.3,998.5 1031.2,995.9 1032,993.3 1032.8,990.6 1033.6,987.9 1034.5,985.2 1035.3,982.4 1036.1,979.6 1036.9,976.8 1037.7,973.9 1038.6,971 1039.4,968.1 1040.2,965.1 1041,962.1 1041.9,959.1 1042.7,956 1043.5,952.9 1044.3,949.8 1045.2,946.6 1046,943.3 1046.8,940 1047.6,936.6 1048.4,933.2 1049.3,929.6 1050.1,926 1050.9,922.2 1051.7,918.4 1052.6,914.4 1053.4,910.3 1054.2,906.1 1055,901.8 1055.9,897.3 1056.7,892.8 1057.5,888.2 1058.3,883.5 1059.1,878.6 1060,873.6 1060.8,868.5 1061.6,863.2 1062.4,857.8 1063.3,852.2 1064.1,846.4 1064.9,840.4 1065.7,834.2 1066.6,827.8 1067.4,821.2 1068.2,814.4 1069,807.4 1069.8,800.1 1070.7,792.4 1071.5,783.7 1072.3,774 1073.1,763.7 1074,752.9 1074.8,741.9 1075.6,730.9 1076.4,720.1 1077.3,709.8 1078.1,699.7 1078.9,689.5 1079.7,679.4 1080.5,669.2 1081.4,659.2 1082.2,649.4 1083,639.8 1083.8,630.6 1084.7,621.7 1085.5,613 1086.3,604.3 1087.1,595.8 1088,587.5 1088.8,579.3 1089.6,571.4 1090.4,563.7 1091.2,556.4 1092.1,549.3 1092.9,542.6 1093.7,536.2 1094.5,530 1095.4,523.9 1096.2,518 1097,512.2 1097.8,506.5 1098.7,501 1099.5,495.7 1100.3,490.5 1101.1,485.5 1101.9,480.6 1102.8,475.9 1103.6,471.4 1104.4,467 1105.2,462.8 1106.1,458.8 1106.9,454.9 1107.7,451.1 1108.5,447.5 1109.4,443.9 1110.2,440.5 1111,437.1 1111.8,433.9 1112.6,430.7 1113.5,427.6 1114.3,424.6 1115.1,421.6 1115.9,418.7 1116.8,415.9 1117.6,413.1 1118.4,410.3 1119.2,407.5 1120.1,404.8 1120.9,402.1 1121.7,399.5 1122.5,396.9 1123.3,394.3 1124.2,391.7 1125,389.2 1125.8,386.7 1126.6,384.3 1127.5,381.9 1128.3,379.5 1129.1,377.2 1129.9,375 1130.8,372.8 1131.6,370.6 1132.4,368.5 1133.2,366.5 1134,364.5 1134.9,362.6 1135.7,360.7 1136.5,358.9 1137.3,357.1 1138.2,355.4 1139,353.6 1139.8,351.9 1140.6,350.2 1141.5,348.5 1142.3,346.9 1143.1,345.2 1143.9,343.6 1144.7,342 1145.6,340.4 1146.4,338.9 1147.2,337.3 1148,335.8 1148.9,334.3 1149.7,332.8 1150.5,331.3 1151.3,329.9 1152.2,328.4 1153,327 1153.8,325.6 1154.6,324.2 1155.4,322.9 1156.3,321.5 1157.1,320.2 1157.9,318.9 1158.7,317.6 1159.6,316.3 1160.4,315 1161.2,313.8 1162,312.5 1162.9,311.3 1163.7,310.1 1164.5,308.9 1165.3,307.8 1166.2,306.6 1167,305.4 1167.8,304.3 1168.6,303.2 1169.4,302.1 1170.3,301 1171.1,299.9 1171.9,298.9 1172.7,297.8 1173.6,296.8 1174.4,295.8 1175.2,294.8 1176,293.8 1176.9,292.8 1177.7,291.8 1178.5,290.9 1179.3,289.9 1180.1,289 1181,288 1181.8,287.1 1182.6,286.2 1183.4,285.3 1184.3,284.4 1185.1,283.6 1185.9,282.7 1186.7,281.8 1187.6,281 1188.4,280.1 1189.2,279.3 1190,278.5 1190.8,277.7 1194.7,274 1198.5,270.5 1202.3,267.1 1206.1,263.8 1210,260.7 1213.8,257.5 1217.6,254.5 1221.5,251.5 1225.3,248.7 1229.1,246.1 1232.9,243.6 1236.8,241.5 1240.6,239.6 1244.4,237.8 1248.2,236.1 1252.1,234.4 1255.9,232.9 1259.7,231.4 1263.5,229.9 1267.4,228.6 1271.2,227.2 1275,226 1278.9,224.8 1282.7,223.6 1286.5,222.5 1290.3,221.5 1294.2,220.5 1298,219.5 1301.8,218.6 1305.6,217.7 1309.5,216.8 1313.3,216 1317.1,215.2 1320.9,214.3 1324.8,213.5 1328.6,212.8 1332.4,212 1336.2,211.3 1340.1,210.6 1360.7,207.1 1381.2,204.2 1401.8,201.7 1422.4,199.4 1443,197.3 1463.6,195.4 1484.2,193.5 1504.7,191.9 1525.3,190.3 1545.9,188.8 1566.5,187.4 1587.1,186.1 1607.7,184.8 1628.2,183.6 1648.8,182.3 1669.4,181.1 1690,179.9 1710.6,178.8 1731.2,177.7 1751.7,176.6 1772.3,175.6 1792.9,174.6 1813.5,173.7 1834.1,172.8 1854.7,172 1875.2,171.3 1895.8,170.6 1916.4,170 1937,169.5" fill="none" stroke="#0000ff" stroke-width="5.5" stroke-linejoin="round" />
<polyline points="231.5,1270.3 252.1,1269.5 272.7,1268.6 293.3,1267.7 313.8,1266.6 334.4,1265.5 355,1264.4 375.6,1263.2 396.2,1261.9 416.8,1260.6 437.3,1259.2 457.9,1257.8 478.5,1256.3 499.1,1254.8 519.7,1253.3 540.3,1251.7 560.8,1250.1 581.4,1248.5 602,1246.9 622.6,1245.2 643.2,1243.4 663.8,1241.6 684.3,1239.6 704.9,1237.5 725.5,1235.2 746.1,1232.7 766.7,1230 787.3,1227 807.8,1223.4 828.4,1219.1 832.3,1218.3 836.1,1217.4 839.9,1216.5 843.7,1215.5 847.6,1214.6 851.4,1213.6 855.2,1212.7 859,1211.7 862.9,1210.7 866.7,1209.6 870.5,1208.6 874.3,1207.5 878.2,1206.4 882,1205.3 885.8,1204.2 889.6,1203 893.5,1201.8 897.3,1200.5 901.1,1199.2 905,1197.9 908.8,1196.5 912.6,1195 916.4,1193.5 920.3,1191.9 924.1,1190.3 927.9,1188.7 931.7,1186.9 935.6,1185.1 939.4,1183.3 943.2,1181.3 947,1179.2 950.9,1177 954.7,1174.7 958.5,1172.2 962.4,1169.6 966.2,1166.8 970,1163.8 973.8,1160.7 977.7,1157.4 978.5,1156.7 979.3,1155.9 980.1,1155.1 980.9,1154.3 981.8,1153.4 982.6,1152.6 983.4,1151.7 984.2,1150.9 985.1,1150 985.9,1149.1 986.7,1148.1 987.5,1147.2 988.4,1146.3 989.2,1145.3 990,1144.3 990.8,1143.4 991.6,1142.4 992.5,1141.4 993.3,1140.4 994.1,1139.4 994.9,1138.3 995.8,1137.3 996.6,1136.3 997.4,1135.2 998.2,1134.2 999.1,1133.1 999.9,1132 1000.7,1131 1001.5,1129.9 1002.3,1128.8 1003.2,1127.7 1004,1126.7 1004.8,1125.6 1005.6,1124.5 1006.5,1123.4 1007.3,1122.3 1008.1,1121.2 1008.9,1120.1 1009.8,1119 1010.6,1117.9 1011.4,1116.8 1012.2,1115.7 1013.1,1114.6 1013.9,1113.4 1014.7,1112.3 1015.5,1111.1 1016.3,1109.9 1017.2,1108.7 1018,1107.5 1018.8,1106.3 1019.6,1105 1020.5,1103.7 1021.3,1102.4 1022.1,1101.1 1022.9,1099.8 1023.8,1098.4 1024.6,1097 1025.4,1095.5 1026.2,1094.1 1027,1092.6 1027.9,1091 1028.7,1089.5 1029.5,1087.8 1030.3,1086.2 1031.2,1084.4 1032,1082.6 1032.8,1080.7 1033.6,1078.8 1034.5,1076.8 1035.3,1074.8 1036.1,1072.6 1036.9,1070.5 1037.7,1068.3 1038.6,1066 1039.4,1063.8 1040.2,1061.4 1041,1059.1 1041.9,1056.7 1042.7,1054.2 1043.5,1051.8 1044.3,1049.3 1045.2,1046.8 1046,1044.3 1046.8,1041.7 1047.6,1039.2 1048.4,1036.6 1049.3,1033.9 1050.1,1031.3 1050.9,1028.6 1051.7,1025.8 1052.6,1023.1 1053.4,1020.2 1054.2,1017.3 1055,1014.4 1055.9,1011.4 1056.7,1008.3 1057.5,1005.1 1058.3,1001.9 1059.1,998.6 1060,995.2 1060.8,991.8 1061.6,988.2 1062.4,984.5 1063.3,980.8 1064.1,976.9 1064.9,972.9 1065.7,968.7 1066.6,964.3 1067.4,959.8 1068.2,955 1069,950.1 1069.8,945.1 1070.7,939.9 1071.5,934.6 1072.3,929.1 1073.1,923.5 1074,917.9 1074.8,912.1 1075.6,906.3 1076.4,900.3 1077.3,894.3 1078.1,888.2 1078.9,882.1 1079.7,875.9 1080.5,869.3 1081.4,862.5 1082.2,855.4 1083,848.1 1083.8,840.8 1084.7,833.4 1085.5,825.9 1086.3,818.3 1087.1,810.6 1088,802.9 1088.8,795 1089.6,787.1 1090.4,779.1 1091.2,771.1 1092.1,763.1 1092.9,755 1093.7,746.9 1094.5,738.7 1095.4,730.6 1096.2,722.5 1097,714.4 1097.8,706.2 1098.7,697.9 1099.5,689.5 1100.3,681.2 1101.1,673.3 1101.9,665.8 1102.8,658.4 1103.6,651.1 1104.4,643.9 1105.2,636.7 1106.1,629.7 1106.9,622.8 1107.7,615.9 1108.5,609.2 1109.4,602.6 1110.2,596.1 1111,589.8 1111.8,583.5 1112.6,577.4 1113.5,571.3 1114.3,565.5 1115.1,559.7 1115.9,554 1116.8,548.5 1117.6,543 1118.4,537.6 1119.2,532.3 1120.1,527.1 1120.9,522 1121.7,517 1122.5,512 1123.3,507.1 1124.2,502.2 1125,497.4 1125.8,492.6 1126.6,487.9 1127.5,483.3 1128.3,478.6 1129.1,474 1129.9,469.5 1130.8,464.9 1131.6,460.5 1132.4,456 1133.2,451.7 1134,447.4 1134.9,443.1 1135.7,439 1136.5,434.9 1137.3,430.9 1138.2,427 1139,423.2 1139.8,419.5 1140.6,415.9 1141.5,412.3 1142.3,408.7 1143.1,405.1 1143.9,401.6 1144.7,398 1145.6,394.4 1146.4,390.9 1147.2,387.4 1148,384 1148.9,380.6 1149.7,377.2 1150.5,373.9 1151.3,370.6 1152.2,367.4 1153,364.3 1153.8,361.3 1154.6,358.3 1155.4,355.4 1156.3,352.6 1157.1,349.8 1157.9,347.2 1158.7,344.7 1159.6,342.3 1160.4,339.9 1161.2,337.7 1162,335.7 1162.9,333.7 1163.7,331.9 1164.5,330.1 1165.3,328.4 1166.2,326.7 1167,325.1 1167.8,323.6 1168.6,322 1169.4,320.6 1170.3,319.1 1171.1,317.7 1171.9,316.4 1172.7,315.1 1173.6,313.8 1174.4,312.5 1175.2,311.3 1176,310.1 1176.9,308.9 1177.7,307.7 1178.5,306.6 1179.3,305.5 1180.1,304.4 1181,303.3 1181.8,302.2 1182.6,301.1 1183.4,300 1184.3,299 1185.1,297.9 1185.9,296.9 1186.7,295.8 1187.6,294.8 1188.4,293.7 1189.2,292.7 1190,291.7 1190.8,290.7 1194.7,286.1 1198.5,281.7 1202.3,277.5 1206.1,273.6 1210,269.9 1213.8,266.4 1217.6,263.1 1221.5,260.1 1225.3,257.3 1229.1,254.7 1232.9,252.2 1236.8,249.9 1240.6,247.7 1244.4,245.6 1248.2,243.6 1252.1,241.6 1255.9,239.7 1259.7,237.9 1263.5,236.1 1267.4,234.4 1271.2,232.8 1275,231.2 1278.9,229.7 1282.7,228.3 1286.5,226.9 1290.3,225.7 1294.2,224.4 1298,223.2 1301.8,222 1305.6,220.8 1309.5,219.6 1313.3,218.5 1317.1,217.4 1320.9,216.3 1324.8,215.2 1328.6,214.2 1332.4,213.2 1336.2,212.2 1340.1,211.2 1360.7,206.3 1381.2,202.1 1401.8,198.4 1422.4,195 1443,191.8 1463.6,188.8 1484.2,186 1504.7,183.3 1525.3,180.9 1545.9,178.6 1566.5,176.5 1587.1,174.5 1607.7,172.6 1628.2,170.8 1648.8,169 1669.4,167.2 1690,165.5 1710.6,163.8 1731.2,162.2 1751.7,160.7 1772.3,159.2 1792.9,157.8 1813.5,156.5 1834.1,155.3 1854.7,154.2 1875.2,153.2 1895.8,152.3 1916.4,151.5 1937,150.9" fill="none" stroke="#ff00ff" stroke-width="5.5" stroke-linejoin="round" />
<polyline points="231.5,1270.3 252.1,1269.7 272.7,1268.9 293.3,1268 313.8,1267 334.4,1265.9 355,1264.7 375.6,1263.4 396.2,1262 416.8,1260.5 437.3,1259 457.9,1257.4 478.5,1255.7 499.1,1254 519.7,1252.2 540.3,1250.4 560.8,1248.6 581.4,1246.7 602,1244.7 622.6,1242.6 643.2,1240.3 663.8,1237.9 684.3,1235.2 704.9,1232.4 725.5,1229.4 746.1,1226.2 766.7,1222.8 787.3,1219.1 807.8,1214.9 828.4,1210 832.3,1209 836.1,1208 839.9,1207 843.7,1206 847.6,1204.9 851.4,1203.8 855.2,1202.7 859,1201.6 862.9,1200.4 866.7,1199.2 870.5,1198 874.3,1196.8 878.2,1195.5 882,1194.3 885.8,1192.9 889.6,1191.5 893.5,1190 897.3,1188.4 901.1,1186.8 905,1185.1 908.8,1183.3 912.6,1181.5 916.4,1179.6 920.3,1177.6 924.1,1175.6 927.9,1173.5 931.7,1171.3 935.6,1169 939.4,1166.5 943.2,1163.9 947,1161.1 950.9,1158.1 954.7,1154.8 958.5,1151.3 962.4,1147.6 966.2,1143.7 970,1139.5 973.8,1135.1 977.7,1130.5 978.5,1129.5 979.3,1128.5 980.1,1127.5 980.9,1126.4 981.8,1125.4 982.6,1124.3 983.4,1123.3 984.2,1122.2 985.1,1121.2 985.9,1120.1 986.7,1119 987.5,1117.9 988.4,1116.8 989.2,1115.7 990,1114.6 990.8,1113.5 991.6,1112.3 992.5,1111.1 993.3,1109.9 994.1,1108.7 994.9,1107.4 995.8,1106.1 996.6,1104.8 997.4,1103.5 998.2,1102.1 999.1,1100.6 999.9,1099.2 1000.7,1097.6 1001.5,1096.1 1002.3,1094.5 1003.2,1092.8 1004,1091.1 1004.8,1089.3 1005.6,1087.5 1006.5,1085.5 1007.3,1083.5 1008.1,1081.3 1008.9,1078.9 1009.8,1076.5 1010.6,1074 1011.4,1071.4 1012.2,1068.6 1013.1,1065.8 1013.9,1062.9 1014.7,1059.9 1015.5,1056.9 1016.3,1053.8 1017.2,1050.6 1018,1047.3 1018.8,1044 1019.6,1040.6 1020.5,1037.2 1021.3,1033.8 1022.1,1030.3 1022.9,1026.8 1023.8,1023.2 1024.6,1019.6 1025.4,1016.1 1026.2,1012.5 1027,1008.9 1027.9,1005.3 1028.7,1001.7 1029.5,998 1030.3,994.2 1031.2,990.3 1032,986.3 1032.8,982.2 1033.6,978.1 1034.5,973.8 1035.3,969.5 1036.1,965.2 1036.9,960.7 1037.7,956.3 1038.6,951.7 1039.4,947.2 1040.2,942.6 1041,937.9 1041.9,933.3 1042.7,928.6 1043.5,923.8 1044.3,919.1 1045.2,914.2 1046,909.4 1046.8,904.4 1047.6,899.4 1048.4,894.3 1049.3,889.1 1050.1,883.8 1050.9,878.5 1051.7,873 1052.6,867.4 1053.4,861.6 1054.2,855.8 1055,849.7 1055.9,843.5 1056.7,837.2 1057.5,830.6 1058.3,824 1059.1,817.1 1060,810.2 1060.8,803.1 1061.6,795.9 1062.4,788.7 1063.3,781.3 1064.1,773.8 1064.9,766.3 1065.7,758.8 1066.6,751.2 1067.4,743.5 1068.2,735.8 1069,728.1 1069.8,720.4 1070.7,712.7 1071.5,704.7 1072.3,696.5 1073.1,688.2 1074,679.9 1074.8,671.7 1075.6,663.6 1076.4,655.6 1077.3,647.5 1078.1,639.4 1078.9,631.3 1079.7,623.3 1080.5,615.3 1081.4,607.5 1082.2,599.8 1083,592.3 1083.8,585 1084.7,577.9 1085.5,571 1086.3,564.3 1087.1,557.8 1088,551.4 1088.8,545.3 1089.6,539.3 1090.4,533.3 1091.2,527.4 1092.1,521.5 1092.9,515.6 1093.7,509.8 1094.5,504 1095.4,498.3 1096.2,492.7 1097,487.2 1097.8,481.8 1098.7,476.5 1099.5,471.4 1100.3,466.4 1101.1,461.6 1101.9,457 1102.8,452.5 1103.6,448.3 1104.4,444.3 1105.2,440.4 1106.1,436.7 1106.9,433 1107.7,429.4 1108.5,426 1109.4,422.6 1110.2,419.3 1111,416.1 1111.8,412.9 1112.6,409.8 1113.5,406.8 1114.3,403.9 1115.1,401 1115.9,398.1 1116.8,395.4 1117.6,392.6 1118.4,389.9 1119.2,387.3 1120.1,384.6 1120.9,382 1121.7,379.5 1122.5,376.9 1123.3,374.4 1124.2,371.9 1125,369.4 1125.8,367 1126.6,364.5 1127.5,362.1 1128.3,359.8 1129.1,357.4 1129.9,355.2 1130.8,352.9 1131.6,350.7 1132.4,348.6 1133.2,346.4 1134,344.4 1134.9,342.4 1135.7,340.5 1136.5,338.6 1137.3,336.8 1138.2,335 1139,333.4 1139.8,331.7 1140.6,330.2 1141.5,328.6 1142.3,327.1 1143.1,325.7 1143.9,324.2 1144.7,322.8 1145.6,321.4 1146.4,320.1 1147.2,318.8 1148,317.5 1148.9,316.2 1149.7,314.9 1150.5,313.7 1151.3,312.5 1152.2,311.3 1153,310.1 1153.8,308.9 1154.6,307.8 1155.4,306.6 1156.3,305.5 1157.1,304.4 1157.9,303.3 1158.7,302.2 1159.6,301.1 1160.4,300 1161.2,298.9 1162,297.8 1162.9,296.7 1163.7,295.6 1164.5,294.5 1165.3,293.5 1166.2,292.4 1167,291.3 1167.8,290.2 1168.6,289.2 1169.4,288.1 1170.3,287 1171.1,286 1171.9,284.9 1172.7,283.9 1173.6,282.9 1174.4,281.8 1175.2,280.8 1176,279.8 1176.9,278.8 1177.7,277.8 1178.5,276.9 1179.3,275.9 1180.1,274.9 1181,274 1181.8,273.1 1182.6,272.1 1183.4,271.2 1184.3,270.3 1185.1,269.5 1185.9,268.6 1186.7,267.8 1187.6,266.9 1188.4,266.1 1189.2,265.3 1190,264.5 1190.8,263.8 1194.7,260.5 1198.5,257.4 1202.3,254.4 1206.1,251.6 1210,249 1213.8,246.5 1217.6,244.2 1221.5,242 1225.3,239.9 1229.1,237.9 1232.9,236.1 1236.8,234.3 1240.6,232.5 1244.4,230.9 1248.2,229.3 1252.1,227.7 1255.9,226.2 1259.7,224.7 1263.5,223.3 1267.4,222 1271.2,220.7 1275,219.4 1278.9,218.2 1282.7,217 1286.5,215.9 1290.3,214.8 1294.2,213.7 1298,212.6 1301.8,211.6 1305.6,210.5 1309.5,209.5 1313.3,208.5 1317.1,207.6 1320.9,206.6 1324.8,205.7 1328.6,204.7 1332.4,203.8 1336.2,202.9 1340.1,202.1 1360.7,197.8 1381.2,194.2 1401.8,191.2 1422.4,188.5 1443,186 1463.6,183.7 1484.2,181.6 1504.7,179.6 1525.3,177.8 1545.9,176 1566.5,174.3 1587.1,172.7 1607.7,171.1 1628.2,169.5 1648.8,167.9 1669.4,166.4 1690,164.9 1710.6,163.4 1731.2,162 1751.7,160.6 1772.3,159.3 1792.9,158 1813.5,156.8 1834.1,155.7 1854.7,154.6 1875.2,153.5 1895.8,152.6 1916.4,151.7 1937,150.9" fill="none" stroke="#ff00ff" stroke-width="5.5" stroke-linejoin="round" />
<polyline points="231.5,1279.6 252.1,1279 272.7,1278.2 293.3,1277.4 313.8,1276.6 334.4,1275.6 355,1274.6 375.6,1273.5 396.2,1272.4 416.8,1271.2 437.3,1270 457.9,1268.8 478.5,1267.5 499.1,1266.2 519.7,1264.8 540.3,1263.3 560.8,1261.7 581.4,1260 602,1258.2 622.6,1256.3 643.2,1254.3 663.8,1252.2 684.3,1250 704.9,1247.4 725.5,1244.6 746.1,1241.5 766.7,1237.9 787.3,1233.8 807.8,1229.3 828.4,1224.5 832.3,1223.6 836.1,1222.7 839.9,1221.7 843.7,1220.7 847.6,1219.7 851.4,1218.6 855.2,1217.5 859,1216.4 862.9,1215.3 866.7,1214.1 870.5,1212.9 874.3,1211.7 878.2,1210.4 882,1209.1 885.8,1207.8 889.6,1206.4 893.5,1205 897.3,1203.5 901.1,1202 905,1200.5 908.8,1198.9 912.6,1197.2 916.4,1195.5 920.3,1193.8 924.1,1191.9 927.9,1189.9 931.7,1187.8 935.6,1185.6 939.4,1183.3 943.2,1180.7 947,1177.9 950.9,1174.9 954.7,1171.7 958.5,1168.3 962.4,1164.9 966.2,1161.3 970,1157.7 973.8,1153.9 977.7,1150 978.5,1149.1 979.3,1148.3 980.1,1147.4 980.9,1146.5 981.8,1145.6 982.6,1144.7 983.4,1143.8 984.2,1142.9 985.1,1142 985.9,1141.1 986.7,1140.2 987.5,1139.2 988.4,1138.3 989.2,1137.3 990,1136.4 990.8,1135.4 991.6,1134.4 992.5,1133.4 993.3,1132.4 994.1,1131.5 994.9,1130.4 995.8,1129.4 996.6,1128.4 997.4,1127.4 998.2,1126.3 999.1,1125.3 999.9,1124.3 1000.7,1123.2 1001.5,1122.1 1002.3,1121 1003.2,1119.9 1004,1118.8 1004.8,1117.7 1005.6,1116.6 1006.5,1115.4 1007.3,1114.3 1008.1,1113.1 1008.9,1111.9 1009.8,1110.8 1010.6,1109.5 1011.4,1108.3 1012.2,1107.1 1013.1,1105.9 1013.9,1104.6 1014.7,1103.3 1015.5,1102.1 1016.3,1100.8 1017.2,1099.5 1018,1098.2 1018.8,1096.8 1019.6,1095.5 1020.5,1094.1 1021.3,1092.8 1022.1,1091.4 1022.9,1090 1023.8,1088.6 1024.6,1087.2 1025.4,1085.7 1026.2,1084.3 1027,1082.9 1027.9,1081.4 1028.7,1080 1029.5,1078.5 1030.3,1077 1031.2,1075.5 1032,1073.9 1032.8,1072.4 1033.6,1070.8 1034.5,1069.1 1035.3,1067.5 1036.1,1065.8 1036.9,1064 1037.7,1062.2 1038.6,1060.3 1039.4,1058.4 1040.2,1056.5 1041,1054.5 1041.9,1052.4 1042.7,1050.3 1043.5,1048 1044.3,1045.7 1045.2,1043.4 1046,1041 1046.8,1038.5 1047.6,1035.9 1048.4,1033.3 1049.3,1030.6 1050.1,1027.8 1050.9,1025 1051.7,1022.1 1052.6,1019.1 1053.4,1016.1 1054.2,1013 1055,1009.9 1055.9,1006.7 1056.7,1003.4 1057.5,1000.1 1058.3,996.8 1059.1,993.3 1060,989.9 1060.8,986.3 1061.6,982.8 1062.4,979.1 1063.3,975.4 1064.1,971.6 1064.9,967.7 1065.7,963.6 1066.6,959.3 1067.4,954.9 1068.2,950.5 1069,945.9 1069.8,941.2 1070.7,936.4 1071.5,931.5 1072.3,926.5 1073.1,921.4 1074,916.2 1074.8,911 1075.6,905.7 1076.4,900.4 1077.3,895 1078.1,889.6 1078.9,884.1 1079.7,878.6 1080.5,872.9 1081.4,867 1082.2,860.8 1083,854.5 1083.8,848.2 1084.7,841.8 1085.5,835.3 1086.3,828.8 1087.1,822.3 1088,815.6 1088.8,809 1089.6,802.2 1090.4,795.5 1091.2,788.6 1092.1,781.8 1092.9,774.9 1093.7,768 1094.5,761.1 1095.4,754.2 1096.2,747.3 1097,740.3 1097.8,733.4 1098.7,726.4 1099.5,719.5 1100.3,712.6 1101.1,705.6 1101.9,699.6 1102.8,694.1 1103.6,688.9 1104.4,684 1105.2,679.3 1106.1,674.7 1106.9,670.3 1107.7,666 1108.5,661.7 1109.4,657.4 1110.2,653.1 1111,648.6 1111.8,644 1112.6,639.3 1113.5,634.3 1114.3,629 1115.1,623.5 1115.9,617.8 1116.8,612 1117.6,606.1 1118.4,600.1 1119.2,593.9 1120.1,587.7 1120.9,581.4 1121.7,575.1 1122.5,568.7 1123.3,562.4 1124.2,556.1 1125,549.8 1125.8,543.5 1126.6,537 1127.5,530.3 1128.3,523.4 1129.1,516.3 1129.9,509.2 1130.8,502 1131.6,494.9 1132.4,487.7 1133.2,480.7 1134,473.8 1134.9,467.1 1135.7,460.6 1136.5,454.4 1137.3,448.5 1138.2,443 1139,438 1139.8,433.3 1140.6,429.2 1141.5,425.1 1142.3,421.2 1143.1,417.4 1143.9,413.6 1144.7,410 1145.6,406.5 1146.4,403.1 1147.2,399.8 1148,396.5 1148.9,393.4 1149.7,390.4 1150.5,387.4 1151.3,384.6 1152.2,381.8 1153,379.1 1153.8,376.5 1154.6,374 1155.4,371.6 1156.3,369.2 1157.1,367 1157.9,364.8 1158.7,362.7 1159.6,360.6 1160.4,358.6 1161.2,356.7 1162,354.9 1162.9,353.2 1163.7,351.5 1164.5,349.9 1165.3,348.4 1166.2,346.9 1167,345.4 1167.8,344 1168.6,342.6 1169.4,341.2 1170.3,339.9 1171.1,338.5 1171.9,337.2 1172.7,335.8 1173.6,334.5 1174.4,333.1 1175.2,331.7 1176,330.3 1176.9,328.9 1177.7,327.5 1178.5,326.1 1179.3,324.8 1180.1,323.4 1181,322.1 1181.8,320.7 1182.6,319.4 1183.4,318.1 1184.3,316.8 1185.1,315.5 1185.9,314.2 1186.7,312.9 1187.6,311.6 1188.4,310.3 1189.2,309.1 1190,307.8 1190.8,306.6 1194.7,300.9 1198.5,295.3 1202.3,289.7 1206.1,284.1 1210,278.4 1213.8,272.9 1217.6,267.7 1221.5,262.8 1225.3,258.4 1229.1,254.6 1232.9,251.4 1236.8,248.6 1240.6,245.9 1244.4,243.3 1248.2,240.9 1252.1,238.6 1255.9,236.4 1259.7,234.3 1263.5,232.3 1267.4,230.4 1271.2,228.6 1275,226.9 1278.9,225.2 1282.7,223.6 1286.5,222.1 1290.3,220.6 1294.2,219.1 1298,217.6 1301.8,216.2 1305.6,214.8 1309.5,213.4 1313.3,212 1317.1,210.7 1320.9,209.4 1324.8,208.1 1328.6,206.9 1332.4,205.7 1336.2,204.5 1340.1,203.3 1360.7,197.6 1381.2,192.9 1401.8,189 1422.4,185.4 1443,182.2 1463.6,179.2 1484.2,176.4 1504.7,173.8 1525.3,171.5 1545.9,169.2 1566.5,167.2 1587.1,165.2 1607.7,163.3 1628.2,161.5 1648.8,159.7 1669.4,157.9 1690,156.2 1710.6,154.5 1731.2,152.9 1751.7,151.4 1772.3,149.9 1792.9,148.5 1813.5,147.2 1834.1,146 1854.7,144.9 1875.2,143.9 1895.8,143 1916.4,142.2 1937,141.6" fill="none" stroke="#008000" stroke-width="5.5" stroke-linejoin="round" />
<polyline points="231.5,1279.6 252.1,1279 272.7,1278.2 293.3,1277.3 313.8,1276.3 334.4,1275.2 355,1274 375.6,1272.7 396.2,1271.3 416.8,1269.8 437.3,1268.3 457.9,1266.7 478.5,1265 499.1,1263.3 519.7,1261.5 540.3,1259.7 560.8,1257.9 581.4,1256 602,1254 622.6,1252 643.2,1249.7 663.8,1247.4 684.3,1244.8 704.9,1242 725.5,1239 746.1,1235.8 766.7,1232.2 787.3,1228.3 807.8,1223.6 828.4,1217.9 832.3,1216.7 836.1,1215.5 839.9,1214.3 843.7,1213.1 847.6,1211.8 851.4,1210.5 855.2,1209.2 859,1207.8 862.9,1206.4 866.7,1205 870.5,1203.6 874.3,1202.1 878.2,1200.6 882,1199.1 885.8,1197.6 889.6,1196 893.5,1194.3 897.3,1192.6 901.1,1190.8 905,1188.9 908.8,1186.9 912.6,1184.8 916.4,1182.6 920.3,1180.3 924.1,1177.9 927.9,1175.3 931.7,1172.6 935.6,1169.8 939.4,1166.6 943.2,1162.8 947,1158.4 950.9,1153.5 954.7,1148.3 958.5,1142.8 962.4,1137.1 966.2,1131.5 970,1125.9 973.8,1120.3 977.7,1114.6 978.5,1113.4 979.3,1112.1 980.1,1110.9 980.9,1109.6 981.8,1108.3 982.6,1107 983.4,1105.7 984.2,1104.4 985.1,1103.1 985.9,1101.8 986.7,1100.5 987.5,1099.1 988.4,1097.8 989.2,1096.4 990,1095.1 990.8,1093.7 991.6,1092.3 992.5,1090.9 993.3,1089.5 994.1,1088.1 994.9,1086.7 995.8,1085.4 996.6,1084 997.4,1082.7 998.2,1081.3 999.1,1080 999.9,1078.6 1000.7,1077.2 1001.5,1075.8 1002.3,1074.3 1003.2,1072.8 1004,1071.3 1004.8,1069.7 1005.6,1068 1006.5,1066.3 1007.3,1064.5 1008.1,1062.6 1008.9,1060.6 1009.8,1058.5 1010.6,1056.4 1011.4,1054.2 1012.2,1052 1013.1,1049.6 1013.9,1047.2 1014.7,1044.7 1015.5,1042.1 1016.3,1039.4 1017.2,1036.6 1018,1033.8 1018.8,1030.8 1019.6,1027.8 1020.5,1024.7 1021.3,1021.4 1022.1,1018.1 1022.9,1014.7 1023.8,1011.2 1024.6,1007.6 1025.4,1003.8 1026.2,1000 1027,996.1 1027.9,992 1028.7,987.9 1029.5,983.2 1030.3,978.2 1031.2,972.7 1032,966.8 1032.8,960.6 1033.6,954.1 1034.5,947.4 1035.3,940.5 1036.1,933.5 1036.9,926.3 1037.7,919.2 1038.6,912 1039.4,904.9 1040.2,897.8 1041,890.9 1041.9,884.2 1042.7,877.7 1043.5,871.5 1044.3,865.2 1045.2,859 1046,852.7 1046.8,846.5 1047.6,840.3 1048.4,834.1 1049.3,828 1050.1,821.9 1050.9,815.8 1051.7,809.8 1052.6,803.9 1053.4,798.1 1054.2,792.3 1055,786.6 1055.9,781.1 1056.7,775.7 1057.5,770.4 1058.3,765.1 1059.1,760 1060,754.9 1060.8,749.8 1061.6,744.7 1062.4,739.7 1063.3,734.6 1064.1,729.5 1064.9,724.3 1065.7,719 1066.6,713.7 1067.4,708.3 1068.2,702.7 1069,697 1069.8,691.1 1070.7,685 1071.5,678.6 1072.3,671.9 1073.1,665 1074,658.1 1074.8,651.2 1075.6,644.4 1076.4,637.7 1077.3,630.9 1078.1,624.1 1078.9,617.3 1079.7,610.5 1080.5,603.8 1081.4,597.2 1082.2,590.6 1083,584.1 1083.8,577.8 1084.7,571.7 1085.5,565.6 1086.3,559.7 1087.1,553.9 1088,548.2 1088.8,542.7 1089.6,537.3 1090.4,532 1091.2,526.7 1092.1,521.3 1092.9,516 1093.7,510.8 1094.5,505.5 1095.4,500.4 1096.2,495.3 1097,490.2 1097.8,485.3 1098.7,480.4 1099.5,475.7 1100.3,471 1101.1,466.5 1101.9,462 1102.8,457.7 1103.6,453.6 1104.4,449.6 1105.2,445.8 1106.1,442.1 1106.9,438.4 1107.7,434.9 1108.5,431.3 1109.4,427.8 1110.2,424.4 1111,421.1 1111.8,417.8 1112.6,414.5 1113.5,411.3 1114.3,408.2 1115.1,405.1 1115.9,402.1 1116.8,399.1 1117.6,396.2 1118.4,393.4 1119.2,390.6 1120.1,387.9 1120.9,385.3 1121.7,382.7 1122.5,380.2 1123.3,377.8 1124.2,375.5 1125,373.2 1125.8,370.9 1126.6,368.8 1127.5,366.7 1128.3,364.7 1129.1,362.8 1129.9,360.9 1130.8,359 1131.6,357.2 1132.4,355.4 1133.2,353.7 1134,352.1 1134.9,350.4 1135.7,348.8 1136.5,347.3 1137.3,345.7 1138.2,344.2 1139,342.7 1139.8,341.2 1140.6,339.8 1141.5,338.3 1142.3,336.9 1143.1,335.5 1143.9,334 1144.7,332.6 1145.6,331.2 1146.4,329.8 1147.2,328.4 1148,327.1 1148.9,325.7 1149.7,324.4 1150.5,323 1151.3,321.7 1152.2,320.4 1153,319.1 1153.8,317.9 1154.6,316.6 1155.4,315.3 1156.3,314.1 1157.1,312.9 1157.9,311.7 1158.7,310.4 1159.6,309.3 1160.4,308.1 1161.2,306.9 1162,305.8 1162.9,304.6 1163.7,303.5 1164.5,302.4 1165.3,301.3 1166.2,300.2 1167,299.1 1167.8,298 1168.6,296.9 1169.4,295.9 1170.3,294.9 1171.1,293.8 1171.9,292.8 1172.7,291.8 1173.6,290.8 1174.4,289.7 1175.2,288.8 1176,287.8 1176.9,286.8 1177.7,285.8 1178.5,284.8 1179.3,283.9 1180.1,282.9 1181,282 1181.8,281 1182.6,280.1 1183.4,279.2 1184.3,278.3 1185.1,277.4 1185.9,276.5 1186.7,275.6 1187.6,274.7 1188.4,273.8 1189.2,272.9 1190,272.1 1190.8,271.2 1194.7,267.3 1198.5,263.5 1202.3,259.9 1206.1,256.3 1210,252.9 1213.8,249.5 1217.6,246.3 1221.5,243.3 1225.3,240.5 1229.1,237.9 1232.9,235.6 1236.8,233.4 1240.6,231.3 1244.4,229.3 1248.2,227.4 1252.1,225.7 1255.9,224 1259.7,222.3 1263.5,220.7 1267.4,219.2 1271.2,217.7 1275,216.2 1278.9,214.8 1282.7,213.4 1286.5,212.1 1290.3,210.8 1294.2,209.5 1298,208.3 1301.8,207.1 1305.6,205.9 1309.5,204.8 1313.3,203.7 1317.1,202.6 1320.9,201.5 1324.8,200.5 1328.6,199.5 1332.4,198.5 1336.2,197.6 1340.1,196.7 1360.7,191.9 1381.2,187.4 1401.8,183.3 1422.4,179.7 1443,176.6 1463.6,173.8 1484.2,171.2 1504.7,169 1525.3,166.9 1545.9,164.9 1566.5,163 1587.1,161.2 1607.7,159.5 1628.2,157.9 1648.8,156.4 1669.4,155 1690,153.7 1710.6,152.4 1731.2,151.2 1751.7,150 1772.3,148.8 1792.9,147.7 1813.5,146.6 1834.1,145.6 1854.7,144.6 1875.2,143.8 1895.8,143 1916.4,142.2 1937,141.6" fill="none" stroke="#008000" stroke-width="5.5" stroke-linejoin="round" />
<polyline points="231.5,1261 252.1,1260.2 272.7,1259.2 293.3,1258.1 313.8,1256.9 334.4,1255.6 355,1254.1 375.6,1252.6 396.2,1251.1 416.8,1249.4 437.3,1247.6 457.9,1245.8 478.5,1244 499.1,1242 519.7,1240.1 540.3,1238 560.8,1236 581.4,1233.9 602,1231.7 622.6,1229.5 643.2,1227 663.8,1224.5 684.3,1221.7 704.9,1218.8 725.5,1215.6 746.1,1212.2 766.7,1208.6 787.3,1204.7 807.8,1200.1 828.4,1194.8 832.3,1193.7 836.1,1192.6 839.9,1191.5 843.7,1190.4 847.6,1189.2 851.4,1188 855.2,1186.8 859,1185.6 862.9,1184.3 866.7,1183.1 870.5,1181.8 874.3,1180.5 878.2,1179.1 882,1177.7 885.8,1176.1 889.6,1174.4 893.5,1172.7 897.3,1170.9 901.1,1169.2 905,1167.5 908.8,1165.9 912.6,1164.3 916.4,1162.7 920.3,1161.1 924.1,1159.3 927.9,1157.2 931.7,1154.8 935.6,1152.1 939.4,1149.1 943.2,1146.1 947,1143 950.9,1139.9 954.7,1136.6 958.5,1133.3 962.4,1129.8 966.2,1126.4 970,1122.9 973.8,1119.3 977.7,1115.8 978.5,1115 979.3,1114.3 980.1,1113.5 980.9,1112.7 981.8,1112 982.6,1111.3 983.4,1110.5 984.2,1109.8 985.1,1109 985.9,1108.3 986.7,1107.6 987.5,1106.9 988.4,1106.1 989.2,1105.4 990,1104.7 990.8,1104 991.6,1103.2 992.5,1102.5 993.3,1101.8 994.1,1101 994.9,1100.3 995.8,1099.5 996.6,1098.8 997.4,1098 998.2,1097.3 999.1,1096.5 999.9,1095.7 1000.7,1095 1001.5,1094.2 1002.3,1093.4 1003.2,1092.6 1004,1091.8 1004.8,1090.9 1005.6,1090.1 1006.5,1089.2 1007.3,1088.4 1008.1,1087.5 1008.9,1086.6 1009.8,1085.7 1010.6,1084.8 1011.4,1083.9 1012.2,1083 1013.1,1082 1013.9,1081 1014.7,1080 1015.5,1079 1016.3,1078 1017.2,1077 1018,1075.9 1018.8,1074.9 1019.6,1073.8 1020.5,1072.8 1021.3,1071.7 1022.1,1070.6 1022.9,1069.5 1023.8,1068.3 1024.6,1067.2 1025.4,1066 1026.2,1064.8 1027,1063.6 1027.9,1062.3 1028.7,1061 1029.5,1059.7 1030.3,1058.4 1031.2,1057 1032,1055.6 1032.8,1054.2 1033.6,1052.7 1034.5,1051.2 1035.3,1049.6 1036.1,1048 1036.9,1046.4 1037.7,1044.7 1038.6,1043 1039.4,1041.2 1040.2,1039.3 1041,1037.5 1041.9,1035.5 1042.7,1033.5 1043.5,1031.2 1044.3,1028.8 1045.2,1026.3 1046,1023.6 1046.8,1020.9 1047.6,1018 1048.4,1014.9 1049.3,1011.8 1050.1,1008.6 1050.9,1005.3 1051.7,1001.9 1052.6,998.4 1053.4,994.9 1054.2,991.3 1055,987.7 1055.9,984 1056.7,980.2 1057.5,976.5 1058.3,972.7 1059.1,968.9 1060,965.1 1060.8,961.4 1061.6,957.6 1062.4,953.8 1063.3,950.1 1064.1,946.3 1064.9,942.5 1065.7,938.6 1066.6,934.7 1067.4,930.8 1068.2,926.7 1069,922.6 1069.8,918.5 1070.7,914.2 1071.5,909.9 1072.3,905.5 1073.1,901 1074,896.3 1074.8,891.6 1075.6,886.8 1076.4,881.9 1077.3,876.8 1078.1,871.5 1078.9,865.9 1079.7,860 1080.5,854 1081.4,847.9 1082.2,841.7 1083,835.4 1083.8,829 1084.7,822.7 1085.5,816.2 1086.3,809.6 1087.1,802.8 1088,795.9 1088.8,789 1089.6,782 1090.4,774.9 1091.2,767.8 1092.1,760.7 1092.9,753.6 1093.7,746.6 1094.5,739.7 1095.4,732.8 1096.2,726 1097,719.4 1097.8,712.9 1098.7,706.6 1099.5,700.6 1100.3,694.6 1101.1,688.6 1101.9,682.2 1102.8,675.6 1103.6,668.9 1104.4,662 1105.2,655 1106.1,647.9 1106.9,640.9 1107.7,633.8 1108.5,626.8 1109.4,619.9 1110.2,613.1 1111,606.5 1111.8,600.1 1112.6,593.9 1113.5,588 1114.3,582.5 1115.1,577.1 1115.9,571.9 1116.8,566.8 1117.6,561.9 1118.4,557 1119.2,552.3 1120.1,547.6 1120.9,543.1 1121.7,538.6 1122.5,534.2 1123.3,529.9 1124.2,525.6 1125,521.4 1125.8,517.3 1126.6,513.1 1127.5,509 1128.3,504.9 1129.1,500.8 1129.9,496.6 1130.8,492.5 1131.6,488.4 1132.4,484.4 1133.2,480.3 1134,476.4 1134.9,472.5 1135.7,468.6 1136.5,464.9 1137.3,461.2 1138.2,457.6 1139,454.1 1139.8,450.8 1140.6,447.6 1141.5,444.5 1142.3,441.5 1143.1,438.7 1143.9,436.1 1144.7,433.6 1145.6,431.2 1146.4,428.8 1147.2,426.4 1148,424.1 1148.9,421.8 1149.7,419.6 1150.5,417.4 1151.3,415.3 1152.2,413.2 1153,411.1 1153.8,409.1 1154.6,407.1 1155.4,405.1 1156.3,403.2 1157.1,401.3 1157.9,399.5 1158.7,397.6 1159.6,395.9 1160.4,394.1 1161.2,392.4 1162,390.7 1162.9,389 1163.7,387.3 1164.5,385.7 1165.3,384.1 1166.2,382.5 1167,381 1167.8,379.5 1168.6,378 1169.4,376.5 1170.3,375 1171.1,373.6 1171.9,372.1 1172.7,370.7 1173.6,369.3 1174.4,367.9 1175.2,366.5 1176,365.2 1176.9,363.9 1177.7,362.6 1178.5,361.3 1179.3,360.1 1180.1,358.9 1181,357.7 1181.8,356.5 1182.6,355.4 1183.4,354.3 1184.3,353.2 1185.1,352.1 1185.9,351 1186.7,350 1187.6,348.9 1188.4,347.9 1189.2,346.9 1190,345.8 1190.8,344.8 1194.7,339.9 1198.5,334.9 1202.3,329.7 1206.1,324.7 1210,319.8 1213.8,315.2 1217.6,311 1221.5,307 1225.3,303.2 1229.1,299.6 1232.9,296 1236.8,292.5 1240.6,289.1 1244.4,285.8 1248.2,282.8 1252.1,280 1255.9,277.4 1259.7,275 1263.5,272.8 1267.4,270.6 1271.2,268.6 1275,266.7 1278.9,264.8 1282.7,263.1 1286.5,261.4 1290.3,259.8 1294.2,258.2 1298,256.6 1301.8,255 1305.6,253.4 1309.5,251.8 1313.3,250.2 1317.1,248.6 1320.9,247 1324.8,245.5 1328.6,243.9 1332.4,242.4 1336.2,240.8 1340.1,239.3 1360.7,231.8 1381.2,225.4 1401.8,220.3 1422.4,215.7 1443,211.4 1463.6,207.5 1484.2,203.8 1504.7,200.4 1525.3,197.2 1545.9,194.3 1566.5,191.6 1587.1,189.1 1607.7,186.7 1628.2,184.4 1648.8,182.2 1669.4,179.9 1690,177.8 1710.6,175.7 1731.2,173.6 1751.7,171.7 1772.3,169.9 1792.9,168.2 1813.5,166.6 1834.1,165.1 1854.7,163.8 1875.2,162.6 1895.8,161.6 1916.4,160.8 1937,160.2" fill="none" stroke="#000080" stroke-width="5.5" stroke-linejoin="round" />
<polyline points="231.5,1261 252.1,1260.4 272.7,1259.6 293.3,1258.6 313.8,1257.4 334.4,1256.1 355,1254.6 375.6,1253 396.2,1251.3 416.8,1249.5 437.3,1247.6 457.9,1245.5 478.5,1243.4 499.1,1241.3 519.7,1239 540.3,1236.8 560.8,1234.5 581.4,1232.1 602,1229.6 622.6,1226.9 643.2,1224 663.8,1220.8 684.3,1217.4 704.9,1213.7 725.5,1209.8 746.1,1205.5 766.7,1200.9 787.3,1195.8 807.8,1189.4 828.4,1181.9 832.3,1180.4 836.1,1178.8 839.9,1177.3 843.7,1175.7 847.6,1174.2 851.4,1172.6 855.2,1171 859,1169.4 862.9,1167.8 866.7,1166.2 870.5,1164.6 874.3,1163 878.2,1161.4 882,1159.8 885.8,1158.1 889.6,1156.4 893.5,1154.5 897.3,1152.6 901.1,1150.6 905,1148.4 908.8,1146.2 912.6,1143.8 916.4,1141.2 920.3,1138.4 924.1,1135.4 927.9,1132.1 931.7,1128.7 935.6,1125.2 939.4,1121.6 943.2,1118 947,1114.2 950.9,1110.2 954.7,1106 958.5,1101.4 962.4,1096.5 966.2,1091.5 970,1086.3 973.8,1081.3 977.7,1076.4 978.5,1075.4 979.3,1074.3 980.1,1073.3 980.9,1072.3 981.8,1071.2 982.6,1070.2 983.4,1069.1 984.2,1068 985.1,1066.9 985.9,1065.8 986.7,1064.7 987.5,1063.5 988.4,1062.3 989.2,1061.1 990,1059.9 990.8,1058.6 991.6,1057.3 992.5,1056 993.3,1054.7 994.1,1053.3 994.9,1051.9 995.8,1050.5 996.6,1049.1 997.4,1047.6 998.2,1046.2 999.1,1044.7 999.9,1043.2 1000.7,1041.7 1001.5,1040.2 1002.3,1038.7 1003.2,1037.1 1004,1035.5 1004.8,1033.9 1005.6,1032.2 1006.5,1030.5 1007.3,1028.8 1008.1,1027.1 1008.9,1025.3 1009.8,1023.6 1010.6,1021.7 1011.4,1019.9 1012.2,1018 1013.1,1016.1 1013.9,1014.1 1014.7,1012.1 1015.5,1010.1 1016.3,1008 1017.2,1005.9 1018,1003.8 1018.8,1001.6 1019.6,999.4 1020.5,997.1 1021.3,994.8 1022.1,992.4 1022.9,990 1023.8,987.6 1024.6,985.1 1025.4,982.5 1026.2,979.7 1027,976.7 1027.9,973.6 1028.7,970.4 1029.5,967.1 1030.3,963.6 1031.2,960 1032,956.3 1032.8,952.6 1033.6,948.7 1034.5,944.8 1035.3,940.9 1036.1,936.8 1036.9,932.8 1037.7,928.7 1038.6,924.6 1039.4,920.4 1040.2,916.3 1041,912.2 1041.9,908.1 1042.7,903.9 1043.5,899.8 1044.3,895.6 1045.2,891.3 1046,887 1046.8,882.6 1047.6,878.2 1048.4,873.6 1049.3,869 1050.1,864.3 1050.9,859.4 1051.7,854.4 1052.6,849.3 1053.4,844.1 1054.2,838.7 1055,833.2 1055.9,827.2 1056.7,821 1057.5,814.6 1058.3,807.9 1059.1,801.1 1060,794.1 1060.8,787 1061.6,779.8 1062.4,772.7 1063.3,765.5 1064.1,758.4 1064.9,751.4 1065.7,744.5 1066.6,737.7 1067.4,731.2 1068.2,724.8 1069,718.5 1069.8,712.3 1070.7,706.2 1071.5,700 1072.3,693.9 1073.1,687.7 1074,681.4 1074.8,675 1075.6,668.5 1076.4,661.8 1077.3,654.9 1078.1,648 1078.9,640.9 1079.7,633.8 1080.5,626.7 1081.4,619.7 1082.2,612.7 1083,605.8 1083.8,599 1084.7,592.5 1085.5,585.9 1086.3,579.5 1087.1,573.3 1088,567.6 1088.8,562.2 1089.6,556.9 1090.4,551.7 1091.2,546.5 1092.1,541.5 1092.9,536.5 1093.7,531.6 1094.5,526.8 1095.4,522.1 1096.2,517.5 1097,512.9 1097.8,508.4 1098.7,504 1099.5,499.7 1100.3,495.4 1101.1,491.2 1101.9,487.1 1102.8,483 1103.6,479 1104.4,475.1 1105.2,471.2 1106.1,467.3 1106.9,463.5 1107.7,459.6 1108.5,455.8 1109.4,452 1110.2,448.1 1111,444.3 1111.8,440.6 1112.6,436.9 1113.5,433.2 1114.3,429.5 1115.1,426 1115.9,422.5 1116.8,419 1117.6,415.6 1118.4,412.4 1119.2,409.2 1120.1,406.1 1120.9,403.1 1121.7,400.2 1122.5,397.5 1123.3,394.8 1124.2,392.3 1125,390 1125.8,387.7 1126.6,385.7 1127.5,383.7 1128.3,381.9 1129.1,380 1129.9,378.2 1130.8,376.5 1131.6,374.8 1132.4,373.2 1133.2,371.6 1134,370 1134.9,368.5 1135.7,367 1136.5,365.6 1137.3,364.2 1138.2,362.8 1139,361.5 1139.8,360.2 1140.6,358.9 1141.5,357.6 1142.3,356.4 1143.1,355.2 1143.9,354 1144.7,352.9 1145.6,351.7 1146.4,350.6 1147.2,349.5 1148,348.4 1148.9,347.4 1149.7,346.3 1150.5,345.3 1151.3,344.2 1152.2,343.2 1153,342.2 1153.8,341.2 1154.6,340.2 1155.4,339.2 1156.3,338.2 1157.1,337.3 1157.9,336.4 1158.7,335.5 1159.6,334.6 1160.4,333.7 1161.2,332.8 1162,332 1162.9,331.1 1163.7,330.3 1164.5,329.4 1165.3,328.6 1166.2,327.8 1167,327 1167.8,326.2 1168.6,325.5 1169.4,324.7 1170.3,323.9 1171.1,323.2 1171.9,322.4 1172.7,321.7 1173.6,320.9 1174.4,320.2 1175.2,319.4 1176,318.7 1176.9,318 1177.7,317.2 1178.5,316.5 1179.3,315.8 1180.1,315.1 1181,314.3 1181.8,313.6 1182.6,312.9 1183.4,312.2 1184.3,311.4 1185.1,310.7 1185.9,309.9 1186.7,309.2 1187.6,308.5 1188.4,307.7 1189.2,306.9 1190,306.2 1190.8,305.4 1194.7,301.9 1198.5,298.3 1202.3,294.8 1206.1,291.4 1210,287.9 1213.8,284.6 1217.6,281.3 1221.5,278.2 1225.3,275.1 1229.1,272.1 1232.9,269.1 1236.8,266.4 1240.6,264 1244.4,261.9 1248.2,260.1 1252.1,258.5 1255.9,256.9 1259.7,255.3 1263.5,253.7 1267.4,252 1271.2,250.3 1275,248.5 1278.9,246.8 1282.7,245.1 1286.5,243.5 1290.3,242.1 1294.2,240.7 1298,239.4 1301.8,238.1 1305.6,236.9 1309.5,235.6 1313.3,234.4 1317.1,233.2 1320.9,232 1324.8,230.8 1328.6,229.7 1332.4,228.6 1336.2,227.5 1340.1,226.4 1360.7,221.1 1381.2,216.5 1401.8,212.6 1422.4,209 1443,205.6 1463.6,202.4 1484.2,199.5 1504.7,196.7 1525.3,194.2 1545.9,191.7 1566.5,189.5 1587.1,187.3 1607.7,185.2 1628.2,183.2 1648.8,181.1 1669.4,179.2 1690,177.2 1710.6,175.4 1731.2,173.6 1751.7,171.8 1772.3,170.1 1792.9,168.6 1813.5,167.1 1834.1,165.6 1854.7,164.3 1875.2,163.1 1895.8,162 1916.4,161 1937,160.2" fill="none" stroke="#000080" stroke-width="5.5" stroke-linejoin="round" />
<polyline points="1910,336.8 1922,332 1930,327 1936,325" fill="none" stroke="#000" stroke-width="6" stroke-linejoin="round" />
<line x1="1102" y1="886.5" x2="1914.4" y2="886.5" stroke="#000" stroke-width="2.2" />
<line x1="1509.5" y1="512" x2="1509.5" y2="1264" stroke="#000" stroke-width="2.2" />
<line x1="1102.8" y1="886.5" x2="1102.8" y2="901.5" stroke="#000" stroke-width="2.2" />
<line x1="1153.6" y1="886.5" x2="1153.6" y2="895.5" stroke="#000" stroke-width="2.2" />
<line x1="1204.3" y1="886.5" x2="1204.3" y2="901.5" stroke="#000" stroke-width="2.2" />
<line x1="1255.1" y1="886.5" x2="1255.1" y2="895.5" stroke="#000" stroke-width="2.2" />
<line x1="1305.9" y1="886.5" x2="1305.9" y2="901.5" stroke="#000" stroke-width="2.2" />
<line x1="1356.7" y1="886.5" x2="1356.7" y2="895.5" stroke="#000" stroke-width="2.2" />
<line x1="1407.5" y1="886.5" x2="1407.5" y2="901.5" stroke="#000" stroke-width="2.2" />
<line x1="1458.2" y1="886.5" x2="1458.2" y2="895.5" stroke="#000" stroke-width="2.2" />
<line x1="1559.8" y1="886.5" x2="1559.8" y2="895.5" stroke="#000" stroke-width="2.2" />
<line x1="1610.5" y1="886.5" x2="1610.5" y2="901.5" stroke="#000" stroke-width="2.2" />
<line x1="1661.3" y1="886.5" x2="1661.3" y2="895.5" stroke="#000" stroke-width="2.2" />
<line x1="1712.1" y1="886.5" x2="1712.1" y2="901.5" stroke="#000" stroke-width="2.2" />
<line x1="1762.9" y1="886.5" x2="1762.9" y2="895.5" stroke="#000" stroke-width="2.2" />
<line x1="1813.7" y1="886.5" x2="1813.7" y2="901.5" stroke="#000" stroke-width="2.2" />
<line x1="1864.4" y1="886.5" x2="1864.4" y2="895.5" stroke="#000" stroke-width="2.2" />
<line x1="1915.2" y1="886.5" x2="1915.2" y2="901.5" stroke="#000" stroke-width="2.2" />
<line x1="1497" y1="512" x2="1509.5" y2="512" stroke="#000" stroke-width="2.2" />
<line x1="1497" y1="699.2" x2="1509.5" y2="699.2" stroke="#000" stroke-width="2.2" />
<line x1="1497" y1="1073.8" x2="1509.5" y2="1073.8" stroke="#000" stroke-width="2.2" />
<line x1="1497" y1="1264" x2="1509.5" y2="1264" stroke="#000" stroke-width="2.2" />
<line x1="1503" y1="605.6" x2="1509.5" y2="605.6" stroke="#000" stroke-width="2.2" />
<line x1="1503" y1="792.9" x2="1509.5" y2="792.9" stroke="#000" stroke-width="2.2" />
<line x1="1503" y1="980.1" x2="1509.5" y2="980.1" stroke="#000" stroke-width="2.2" />
<line x1="1503" y1="1167.4" x2="1509.5" y2="1167.4" stroke="#000" stroke-width="2.2" />
<polyline points="1101.4,1173.8 1107.9,1173.3 1114.3,1172.9 1120.8,1172.4 1127.3,1171.2 1133.7,1168.6 1140.2,1165.2 1146.7,1161.3 1153.1,1157.3 1159.6,1152.5 1166.1,1147.2 1172.5,1141.3 1179,1135.1 1185.5,1128.8 1191.9,1122.5 1198.4,1116 1204.8,1109.5 1211.3,1102.9 1217.8,1096.3 1224.2,1089.5 1230.7,1082.7 1237.2,1075.9 1243.6,1069 1250.1,1062 1256.6,1055 1263,1048 1269.5,1040.9 1276,1033.8 1282.4,1026.7 1288.9,1019.5 1295.4,1012.4 1301.8,1005.2 1308.3,998 1314.8,990.8 1321.2,983.6 1327.7,976.5 1334.2,969.3 1340.6,962.1 1347.1,955 1353.6,947.9 1360,940.8 1366.5,933.8 1373,926.8 1379.4,919.8 1385.9,912.9 1392.3,906.1 1398.8,899.3 1405.3,892.5 1411.7,885.9 1418.2,879.3 1424.7,872.7 1431.1,866.2 1437.6,859.7 1444.1,853.2 1450.5,846.8 1457,840.4 1463.5,834 1469.9,827.7 1476.4,821.3 1482.9,815 1489.3,808.7 1495.8,802.5 1502.3,796.2 1508.7,789.9 1515.2,783.7 1521.7,777.4 1528.1,771.1 1534.6,764.9 1541.1,758.7 1547.5,752.6 1554,746.6 1560.5,740.8 1566.9,735 1573.4,729.3 1579.9,723.6 1586.3,717.9 1592.8,712.2 1599.2,706.6 1605.7,701 1612.2,695.5 1618.6,690 1625.1,684.5 1631.6,679.1 1638,673.7 1644.5,668.3 1651,663 1657.4,657.8 1663.9,652.6 1670.4,647.4 1676.8,642.3 1683.3,637.3 1689.8,632.3 1696.2,627.4 1702.7,622.5 1709.2,617.7 1715.6,612.9 1722.1,608.2 1728.6,603.5 1735,598.9 1741.5,594.4 1748,589.9 1754.4,585.4 1760.9,581 1767.4,576.6 1773.8,572.3 1780.3,568 1786.7,563.7 1793.2,559.5 1799.7,555.3 1806.1,551.1 1812.6,547 1819.1,542.9 1825.5,538.8 1832,534.8 1838.5,530.7 1844.9,526.7 1851.4,522.7 1857.9,518.7 1864.3,514.8 1870.8,510.8" fill="none" stroke="#000000" stroke-width="2.2" stroke-linejoin="round" />
<polyline points="1146.9,1260 1153.4,1255.8 1159.8,1251.6 1166.3,1247.3 1172.7,1243 1179.2,1238.7 1185.6,1234.4 1192.1,1230 1198.5,1225.6 1205,1221.2 1211.4,1216.8 1217.9,1212.4 1224.3,1207.9 1230.8,1203.4 1237.2,1198.9 1243.7,1194.3 1250.1,1189.7 1256.6,1185.1 1263,1180.5 1269.5,1175.8 1275.9,1171.1 1282.4,1166.4 1288.8,1161.7 1295.3,1156.9 1301.8,1152.1 1308.2,1147.2 1314.7,1142.4 1321.1,1137.5 1327.6,1132.5 1334,1127.6 1340.5,1122.6 1346.9,1117.6 1353.4,1112.5 1359.8,1107.4 1366.3,1102.3 1372.7,1097.2 1379.2,1092 1385.6,1086.8 1392.1,1081.5 1398.5,1076.2 1405,1070.9 1411.4,1065.6 1417.9,1060.2 1424.3,1054.8 1430.8,1049.3 1437.2,1043.8 1443.7,1038.3 1450.1,1032.7 1456.6,1027.1 1463.1,1021.5 1469.5,1015.8 1476,1010.1 1482.4,1004.3 1488.9,998.5 1495.3,992.7 1501.8,986.8 1508.2,980.9 1514.7,974.9 1521.1,968.7 1527.6,962.3 1534,955.7 1540.5,949.1 1546.9,942.3 1553.4,935.3 1559.8,928.4 1566.3,921.3 1572.7,914.2 1579.2,907.1 1585.6,900 1592.1,892.9 1598.5,885.9 1605,878.8 1611.5,871.6 1617.9,864.3 1624.4,857 1630.8,849.5 1637.3,842 1643.7,834.5 1650.2,827 1656.6,819.4 1663.1,811.9 1669.5,804.4 1676,796.9 1682.4,789.4 1688.9,782.1 1695.3,774.8 1701.8,767.6 1708.2,760.5 1714.7,753.5 1721.1,746.7 1727.6,740 1734,733.5 1740.5,727.1 1746.9,720.8 1753.4,714.6 1759.8,708.6 1766.3,702.5 1772.8,696.5 1779.2,690.6 1785.7,684.7 1792.1,678.7 1798.6,672.7 1805,666.7 1811.5,660.7 1817.9,654.6 1824.4,648.6 1830.8,642.6 1837.3,636.6 1843.7,630.8 1850.2,625.1 1856.6,619.6 1863.1,614.2 1869.5,608.7 1876,603.4 1882.4,598.1 1888.9,592.9 1895.3,587.9 1901.8,583.2 1908.2,578.8 1914.7,574.8" fill="none" stroke="#000000" stroke-width="2.2" stroke-linejoin="round" />
<polyline points="1175,1128.7 1179.8,1123.6 1184.5,1118.5 1189.3,1113.2 1194.1,1107.8 1198.9,1102.3 1203.6,1096.8 1208.4,1091.1 1213.2,1085.4 1218,1079.6 1222.7,1073.8 1227.5,1067.8 1232.3,1061.8 1237.1,1055.8 1241.8,1049.7 1246.6,1043.6 1251.4,1037.4 1256.2,1031.2 1260.9,1024.9 1265.7,1018.6 1270.5,1012.3 1275.3,1006 1280,999.7 1284.8,993.3 1289.6,987 1294.3,980.6 1299.1,974.3 1303.9,967.9 1308.7,961.6 1313.4,955.3 1318.2,949 1323,942.8 1327.8,936.5 1332.5,930.3 1337.3,924.2 1342.1,918.1 1346.9,912 1351.6,906 1356.4,900.1 1361.2,894.2 1366,888.4 1370.7,882.7 1375.5,877 1380.3,871.2 1385.1,865.5 1389.8,859.7 1394.6,854 1399.4,848.3 1404.1,842.5 1408.9,836.8 1413.7,831.1 1418.5,825.4 1423.2,819.7 1428,814.1 1432.8,808.4 1437.6,802.8 1442.3,797.2 1447.1,791.7 1451.9,786.2 1456.7,780.7 1461.4,775.2 1466.2,769.8 1471,764.5 1475.8,759.1 1480.5,753.9 1485.3,748.6 1490.1,743.5 1494.9,738.3 1499.6,733.3 1504.4,728.3 1509.2,723.3 1514,718.5 1518.7,713.6 1523.5,708.7 1528.3,703.9 1533,699.1 1537.8,694.3 1542.6,689.5 1547.4,684.7 1552.1,680 1556.9,675.3 1561.7,670.6 1566.5,665.9 1571.2,661.2 1576,656.6 1580.8,652 1585.6,647.4 1590.3,642.8 1595.1,638.2 1599.9,633.7 1604.7,629.2 1609.4,624.7 1614.2,620.3 1619,615.8 1623.8,611.4 1628.5,607.1 1633.3,602.7 1638.1,598.4 1642.8,594.1 1647.6,589.8 1652.4,585.6 1657.2,581.4 1661.9,577.2 1666.7,573 1671.5,568.9 1676.3,564.8 1681,560.7 1685.8,556.7 1690.6,552.7 1695.4,548.7 1700.1,544.8 1704.9,540.9 1709.7,537 1714.5,533.1 1719.2,529.3 1724,525.6 1728.8,521.8 1733.6,518.1 1738.3,514.4 1743.1,510.8" fill="none" stroke="#ff0000" stroke-width="2.2" stroke-linejoin="round" />
<polyline points="1275.6,1260 1281,1255.9 1286.3,1251.7 1291.7,1247.4 1297.1,1243.2 1302.5,1238.8 1307.8,1234.5 1313.2,1230 1318.6,1225.6 1323.9,1221.1 1329.3,1216.6 1334.7,1212 1340,1207.4 1345.4,1202.7 1350.8,1198 1356.2,1193.3 1361.5,1188.5 1366.9,1183.7 1372.3,1178.8 1377.6,1173.9 1383,1169 1388.4,1164.1 1393.8,1159.1 1399.1,1154.1 1404.5,1149 1409.9,1143.9 1415.2,1138.8 1420.6,1133.7 1426,1128.5 1431.3,1123.3 1436.7,1118.1 1442.1,1112.8 1447.5,1107.5 1452.8,1102.2 1458.2,1096.9 1463.6,1091.5 1468.9,1086.1 1474.3,1080.7 1479.7,1075.3 1485.1,1069.9 1490.4,1064.4 1495.8,1058.9 1501.2,1053.4 1506.5,1047.8 1511.9,1042.3 1517.3,1036.7 1522.6,1031 1528,1025.2 1533.4,1019.4 1538.8,1013.5 1544.1,1007.6 1549.5,1001.6 1554.9,995.6 1560.2,989.5 1565.6,983.4 1571,977.2 1576.4,971 1581.7,964.7 1587.1,958.4 1592.5,952 1597.8,945.7 1603.2,939.3 1608.6,932.8 1613.9,926.4 1619.3,919.9 1624.7,913.4 1630.1,906.8 1635.4,900.3 1640.8,893.7 1646.2,887.1 1651.5,880.5 1656.9,873.8 1662.3,867 1667.7,860.1 1673,853.2 1678.4,846.2 1683.8,839.2 1689.1,832.1 1694.5,825 1699.9,817.9 1705.2,810.8 1710.6,803.7 1716,796.6 1721.4,789.5 1726.7,782.4 1732.1,775.4 1737.5,768.5 1742.8,761.5 1748.2,754.7 1753.6,747.9 1759,741 1764.3,734.2 1769.7,727.3 1775.1,720.5 1780.4,713.7 1785.8,707 1791.2,700.3 1796.5,693.6 1801.9,687 1807.3,680.4 1812.7,673.9 1818,667.5 1823.4,661.2 1828.8,655 1834.1,648.8 1839.5,642.7 1844.9,636.7 1850.3,630.7 1855.6,624.7 1861,618.7 1866.4,612.8 1871.7,606.8 1877.1,600.8 1882.5,594.8 1887.8,588.6 1893.2,582.4 1898.6,576.3 1904,570.4 1909.3,564.7 1914.7,559.3" fill="none" stroke="#ff0000" stroke-width="2.2" stroke-linejoin="round" />
<polyline points="1175,1077 1179.6,1073 1184.2,1068.9 1188.7,1064.6 1193.3,1060.2 1197.9,1055.7 1202.5,1051.1 1207.1,1046.3 1211.6,1041.4 1216.2,1036.5 1220.8,1031.4 1225.4,1026.2 1229.9,1021 1234.5,1015.7 1239.1,1010.3 1243.7,1004.9 1248.3,999.4 1252.8,993.8 1257.4,988.2 1262,982.6 1266.6,976.9 1271.2,971.2 1275.7,965.5 1280.3,959.8 1284.9,954.1 1289.5,948.4 1294.1,942.7 1298.6,937 1303.2,931.3 1307.8,925.7 1312.4,920.1 1316.9,914.5 1321.5,909 1326.1,903.5 1330.7,898.1 1335.3,892.8 1339.8,887.6 1344.4,882.4 1349,877.2 1353.6,872 1358.2,866.7 1362.7,861.5 1367.3,856.3 1371.9,851 1376.5,845.7 1381.1,840.5 1385.6,835.2 1390.2,829.9 1394.8,824.7 1399.4,819.4 1403.9,814.1 1408.5,808.9 1413.1,803.6 1417.7,798.4 1422.3,793.2 1426.8,788 1431.4,782.8 1436,777.6 1440.6,772.5 1445.2,767.3 1449.7,762.2 1454.3,757.2 1458.9,752.1 1463.5,747.1 1468.1,742.1 1472.6,737.2 1477.2,732.3 1481.8,727.4 1486.4,722.6 1491,717.8 1495.5,713.1 1500.1,708.4 1504.7,703.7 1509.3,699.1 1513.8,694.6 1518.4,690 1523,685.5 1527.6,681 1532.2,676.4 1536.7,671.9 1541.3,667.4 1545.9,663 1550.5,658.5 1555.1,654 1559.6,649.6 1564.2,645.2 1568.8,640.7 1573.4,636.4 1578,632 1582.5,627.6 1587.1,623.3 1591.7,619 1596.3,614.7 1600.8,610.4 1605.4,606.2 1610,602 1614.6,597.8 1619.2,593.6 1623.7,589.5 1628.3,585.4 1632.9,581.3 1637.5,577.3 1642.1,573.3 1646.6,569.3 1651.2,565.3 1655.8,561.4 1660.4,557.6 1665,553.7 1669.5,549.9 1674.1,546.2 1678.7,542.4 1683.3,538.7 1687.8,535.1 1692.4,531.5 1697,527.9 1701.6,524.4 1706.2,520.9 1710.7,517.5 1715.3,514.1 1719.9,510.8" fill="none" stroke="#0000ff" stroke-width="2.2" stroke-linejoin="round" />
<polyline points="1301.5,1260 1306.7,1256.2 1311.8,1252.4 1317,1248.5 1322.1,1244.5 1327.3,1240.5 1332.4,1236.4 1337.6,1232.2 1342.7,1228 1347.9,1223.8 1353,1219.4 1358.2,1215.1 1363.3,1210.7 1368.5,1206.2 1373.6,1201.7 1378.8,1197.2 1383.9,1192.6 1389.1,1188 1394.3,1183.3 1399.4,1178.6 1404.6,1173.8 1409.7,1169 1414.9,1164.2 1420,1159.4 1425.2,1154.5 1430.3,1149.6 1435.5,1144.7 1440.6,1139.7 1445.8,1134.7 1450.9,1129.7 1456.1,1124.7 1461.2,1119.6 1466.4,1114.5 1471.5,1109.5 1476.7,1104.3 1481.9,1099.2 1487,1094.1 1492.2,1089 1497.3,1083.8 1502.5,1078.7 1507.6,1073.5 1512.8,1068.3 1517.9,1063.1 1523.1,1057.8 1528.2,1052.5 1533.4,1047.1 1538.5,1041.6 1543.7,1036.2 1548.8,1030.7 1554,1025.1 1559.1,1019.5 1564.3,1013.9 1569.5,1008.2 1574.6,1002.5 1579.8,996.8 1584.9,991 1590.1,985.2 1595.2,979.4 1600.4,973.6 1605.5,967.7 1610.7,961.8 1615.8,955.9 1621,950 1626.1,944 1631.3,938 1636.4,932.1 1641.6,926.1 1646.7,920.1 1651.9,914.1 1657.1,908.1 1662.2,902 1667.4,896 1672.5,890 1677.7,884 1682.8,877.9 1688,871.7 1693.1,865.4 1698.3,859.1 1703.4,852.8 1708.6,846.4 1713.7,840 1718.9,833.6 1724,827.1 1729.2,820.7 1734.3,814.2 1739.5,807.8 1744.7,801.4 1749.8,795.1 1755,788.8 1760.1,782.5 1765.3,776.3 1770.4,770.2 1775.6,764.2 1780.7,758.3 1785.9,752.4 1791,746.6 1796.2,740.9 1801.3,735.2 1806.5,729.5 1811.6,723.9 1816.8,718.4 1821.9,712.8 1827.1,707.3 1832.3,701.8 1837.4,696.3 1842.6,690.8 1847.7,685.3 1852.9,679.8 1858,674.3 1863.2,668.7 1868.3,663 1873.5,657 1878.6,651 1883.8,644.9 1888.9,639 1894.1,633.2 1899.2,627.6 1904.4,622.4 1909.5,617.7 1914.7,613.5" fill="none" stroke="#0000ff" stroke-width="2.2" stroke-linejoin="round" />
<polyline points="1172,903 1175.9,899.6 1179.7,896.2 1183.6,892.8 1187.4,889.4 1191.3,885.9 1195.1,882.5 1199,879 1202.9,875.4 1206.7,871.9 1210.6,868.4 1214.4,864.8 1218.3,861.2 1222.1,857.6 1226,854.1 1229.8,850.5 1233.7,846.8 1237.6,843.2 1241.4,839.6 1245.3,836 1249.1,832.4 1253,828.8 1256.8,825.2 1260.7,821.6 1264.6,817.9 1268.4,814.4 1272.3,810.8 1276.1,807.2 1280,803.6 1283.8,800.1 1287.7,796.5 1291.5,793 1295.4,789.5 1299.3,786 1303.1,782.5 1307,779 1310.8,775.5 1314.7,772 1318.5,768.5 1322.4,765 1326.3,761.5 1330.1,757.9 1334,754.4 1337.8,750.9 1341.7,747.4 1345.5,743.8 1349.4,740.3 1353.2,736.8 1357.1,733.2 1361,729.7 1364.8,726.2 1368.7,722.7 1372.5,719.1 1376.4,715.6 1380.2,712.1 1384.1,708.6 1388,705.1 1391.8,701.6 1395.7,698.1 1399.5,694.6 1403.4,691.1 1407.2,687.6 1411.1,684.2 1414.9,680.7 1418.8,677.2 1422.7,673.8 1426.5,670.4 1430.4,666.9 1434.2,663.5 1438.1,660.1 1441.9,656.8 1445.8,653.4 1449.7,650 1453.5,646.7 1457.4,643.3 1461.2,640 1465.1,636.7 1468.9,633.4 1472.8,630.2 1476.6,626.9 1480.5,623.7 1484.4,620.5 1488.2,617.3 1492.1,614.1 1495.9,610.9 1499.8,607.8 1503.6,604.7 1507.5,601.6 1511.4,598.5 1515.2,595.5 1519.1,592.4 1522.9,589.4 1526.8,586.4 1530.6,583.4 1534.5,580.4 1538.3,577.4 1542.2,574.5 1546.1,571.5 1549.9,568.6 1553.8,565.7 1557.6,562.8 1561.5,559.9 1565.3,557.1 1569.2,554.2 1573.1,551.4 1576.9,548.6 1580.8,545.8 1584.6,543 1588.5,540.2 1592.3,537.5 1596.2,534.7 1600,532 1603.9,529.3 1607.8,526.6 1611.6,523.9 1615.5,521.3 1619.3,518.6 1623.2,516 1627,513.4 1630.9,510.8" fill="none" stroke="#ff00ff" stroke-width="2.2" stroke-linejoin="round" />
<polyline points="1390.7,1260 1395.1,1256.9 1399.5,1253.8 1403.9,1250.6 1408.3,1247.4 1412.7,1244.1 1417.1,1240.8 1421.5,1237.5 1425.9,1234.1 1430.3,1230.7 1434.7,1227.3 1439.1,1223.8 1443.5,1220.3 1447.9,1216.8 1452.3,1213.3 1456.8,1209.7 1461.2,1206.2 1465.6,1202.6 1470,1199 1474.4,1195.3 1478.8,1191.7 1483.2,1188.1 1487.6,1184.4 1492,1180.8 1496.4,1177.1 1500.8,1173.4 1505.2,1169.8 1509.6,1166.1 1514,1162.4 1518.4,1158.8 1522.8,1155.1 1527.2,1151.4 1531.6,1147.6 1536,1143.9 1540.4,1140.2 1544.8,1136.4 1549.2,1132.6 1553.6,1128.9 1558,1125.1 1562.4,1121.3 1566.8,1117.5 1571.2,1113.6 1575.6,1109.8 1580,1106 1584.4,1102.1 1588.9,1098.2 1593.3,1094.4 1597.7,1090.5 1602.1,1086.6 1606.5,1082.7 1610.9,1078.8 1615.3,1074.9 1619.7,1071 1624.1,1067 1628.5,1063.1 1632.9,1059.2 1637.3,1055.2 1641.7,1051.2 1646.1,1047.3 1650.5,1043.3 1654.9,1039.3 1659.3,1035.4 1663.7,1031.4 1668.1,1027.4 1672.5,1023.4 1676.9,1019.4 1681.3,1015.4 1685.7,1011.4 1690.1,1007.4 1694.5,1003.3 1698.9,999.3 1703.3,995.3 1707.7,991.3 1712.1,987.2 1716.5,983.2 1721,979.2 1725.4,975.1 1729.8,971.1 1734.2,967 1738.6,963 1743,959 1747.4,954.9 1751.8,950.9 1756.2,946.8 1760.6,942.8 1765,938.7 1769.4,934.7 1773.8,930.7 1778.2,926.6 1782.6,922.6 1787,918.5 1791.4,914.5 1795.8,910.5 1800.2,906.4 1804.6,902.4 1809,898.4 1813.4,894.3 1817.8,890.3 1822.2,886.3 1826.6,882.2 1831,878.2 1835.4,874.1 1839.8,869.9 1844.2,865.8 1848.6,861.6 1853.1,857.4 1857.5,853.2 1861.9,849 1866.3,844.9 1870.7,840.7 1875.1,836.5 1879.5,832.4 1883.9,828.3 1888.3,824.2 1892.7,820.2 1897.1,816.2 1901.5,812.2 1905.9,808.3 1910.3,804.5 1914.7,800.7" fill="none" stroke="#ff00ff" stroke-width="2.2" stroke-linejoin="round" />
<polyline points="1177.8,835.2 1181.5,832.6 1185.3,830 1189,827.3 1192.8,824.7 1196.5,822 1200.3,819.2 1204,816.5 1207.7,813.7 1211.5,810.9 1215.2,808 1219,805.2 1222.7,802.3 1226.5,799.5 1230.2,796.6 1233.9,793.7 1237.7,790.7 1241.4,787.8 1245.2,784.9 1248.9,782 1252.7,779 1256.4,776.1 1260.1,773.2 1263.9,770.2 1267.6,767.3 1271.4,764.4 1275.1,761.4 1278.9,758.5 1282.6,755.6 1286.3,752.7 1290.1,749.9 1293.8,747 1297.6,744.1 1301.3,741.3 1305.1,738.5 1308.8,735.6 1312.5,732.8 1316.3,729.9 1320,727.1 1323.8,724.2 1327.5,721.4 1331.3,718.5 1335,715.7 1338.7,712.8 1342.5,709.9 1346.2,707 1350,704.2 1353.7,701.3 1357.5,698.4 1361.2,695.6 1364.9,692.7 1368.7,689.8 1372.4,686.9 1376.2,684.1 1379.9,681.2 1383.7,678.3 1387.4,675.4 1391.1,672.6 1394.9,669.7 1398.6,666.9 1402.4,664 1406.1,661.1 1409.9,658.3 1413.6,655.5 1417.3,652.6 1421.1,649.8 1424.8,647 1428.6,644.1 1432.3,641.3 1436.1,638.5 1439.8,635.7 1443.5,632.9 1447.3,630.1 1451,627.3 1454.8,624.6 1458.5,621.8 1462.3,619.1 1466,616.3 1469.7,613.6 1473.5,610.9 1477.2,608.1 1481,605.4 1484.7,602.8 1488.5,600.1 1492.2,597.4 1495.9,594.8 1499.7,592.1 1503.4,589.5 1507.2,586.9 1510.9,584.3 1514.7,581.7 1518.4,579.1 1522.1,576.5 1525.9,573.9 1529.6,571.4 1533.4,568.8 1537.1,566.3 1540.9,563.7 1544.6,561.2 1548.3,558.7 1552.1,556.2 1555.8,553.7 1559.6,551.2 1563.3,548.7 1567.1,546.3 1570.8,543.8 1574.5,541.4 1578.3,539 1582,536.5 1585.8,534.1 1589.5,531.7 1593.3,529.4 1597,527 1600.7,524.6 1604.5,522.3 1608.2,520 1612,517.7 1615.7,515.4 1619.5,513.1 1623.2,510.8" fill="none" stroke="#008000" stroke-width="2.2" stroke-linejoin="round" />
<polyline points="1399,1260 1403.3,1257.3 1407.7,1254.5 1412,1251.8 1416.3,1248.9 1420.7,1246.1 1425,1243.2 1429.3,1240.3 1433.7,1237.4 1438,1234.5 1442.3,1231.5 1446.7,1228.5 1451,1225.5 1455.3,1222.5 1459.7,1219.4 1464,1216.3 1468.3,1213.3 1472.7,1210.2 1477,1207.1 1481.3,1204 1485.7,1200.9 1490,1197.8 1494.3,1194.7 1498.7,1191.5 1503,1188.4 1507.3,1185.3 1511.7,1182.2 1516,1179 1520.3,1175.9 1524.7,1172.8 1529,1169.6 1533.3,1166.5 1537.7,1163.3 1542,1160.1 1546.3,1156.9 1550.7,1153.8 1555,1150.6 1559.3,1147.4 1563.7,1144.2 1568,1140.9 1572.3,1137.7 1576.7,1134.5 1581,1131.3 1585.3,1128 1589.7,1124.8 1594,1121.5 1598.3,1118.3 1602.7,1115 1607,1111.7 1611.3,1108.5 1615.7,1105.2 1620,1101.9 1624.3,1098.6 1628.7,1095.3 1633,1092 1637.3,1088.7 1641.7,1085.4 1646,1082.1 1650.3,1078.8 1654.7,1075.5 1659,1072.1 1663.4,1068.8 1667.7,1065.5 1672,1062.1 1676.4,1058.8 1680.7,1055.5 1685,1052.1 1689.4,1048.8 1693.7,1045.4 1698,1042 1702.4,1038.7 1706.7,1035.3 1711,1032 1715.4,1028.6 1719.7,1025.2 1724,1021.8 1728.4,1018.5 1732.7,1015.1 1737,1011.7 1741.4,1008.3 1745.7,1004.9 1750,1001.6 1754.4,998.2 1758.7,994.8 1763,991.4 1767.4,988 1771.7,984.6 1776,981.2 1780.4,977.8 1784.7,974.4 1789,971 1793.4,967.6 1797.7,964.2 1802,960.8 1806.4,957.4 1810.7,954 1815,950.6 1819.4,947.2 1823.7,943.8 1828,940.4 1832.4,937 1836.7,933.6 1841,930.2 1845.4,926.8 1849.7,923.5 1854,920.1 1858.4,916.7 1862.7,913.3 1867,909.9 1871.4,906.5 1875.7,903.1 1880,899.7 1884.4,896.4 1888.7,893 1893,889.6 1897.4,886.2 1901.7,882.7 1906,879.2 1910.4,875.7 1914.7,872.6" fill="none" stroke="#008000" stroke-width="2.2" stroke-linejoin="round" />
<polyline points="1101.9,935.9 1106,932.9 1110.2,929.9 1114.3,926.9 1118.4,923.9 1122.6,920.9 1126.7,918 1130.8,915 1134.9,912.1 1139.1,909.2 1143.2,906.3 1147.3,903.3 1151.5,900.4 1155.6,897.5 1159.7,894.7 1163.9,891.8 1168,888.9 1172.1,886 1176.3,883.1 1180.4,880.3 1184.5,877.4 1188.7,874.5 1192.8,871.7 1196.9,868.8 1201,865.9 1205.2,863.1 1209.3,860.2 1213.4,857.3 1217.6,854.5 1221.7,851.6 1225.8,848.7 1230,845.8 1234.1,842.9 1238.2,840 1242.4,837.1 1246.5,834.2 1250.6,831.3 1254.8,828.4 1258.9,825.5 1263,822.5 1267.1,819.6 1271.3,816.6 1275.4,813.6 1279.5,810.6 1283.7,807.6 1287.8,804.6 1291.9,801.6 1296.1,798.5 1300.2,795.5 1304.3,792.4 1308.5,789.3 1312.6,786.2 1316.7,783 1320.8,779.9 1325,776.7 1329.1,773.5 1333.2,770.3 1337.4,767.1 1341.5,763.9 1345.6,760.7 1349.8,757.4 1353.9,754.2 1358,750.9 1362.2,747.6 1366.3,744.4 1370.4,741.1 1374.6,737.8 1378.7,734.5 1382.8,731.2 1386.9,727.9 1391.1,724.6 1395.2,721.2 1399.3,717.9 1403.5,714.6 1407.6,711.3 1411.7,708 1415.9,704.7 1420,701.4 1424.1,698.1 1428.3,694.7 1432.4,691.5 1436.5,688.2 1440.6,684.9 1444.8,681.6 1448.9,678.3 1453,675.1 1457.2,671.8 1461.3,668.6 1465.4,665.3 1469.6,662.1 1473.7,658.9 1477.8,655.7 1482,652.5 1486.1,649.4 1490.2,646.2 1494.4,643.1 1498.5,640 1502.6,636.9 1506.7,633.8 1510.9,630.8 1515,627.7 1519.1,624.6 1523.3,621.6 1527.4,618.5 1531.5,615.4 1535.7,612.4 1539.8,609.3 1543.9,606.3 1548.1,603.2 1552.2,600.2 1556.3,597.3 1560.5,594.3 1564.6,591.4 1568.7,588.5 1572.8,585.7 1577,582.9 1581.1,580.1 1585.2,577.4 1589.4,574.8 1593.5,572.2 1602.6,555.5 1619.3,552.9 1637.4,550.3 1642.5,549" fill="none" stroke="#000080" stroke-width="2.2" stroke-linejoin="round" />
<polyline points="1333,1260 1337.9,1257.2 1342.8,1254.3 1347.7,1251.4 1352.6,1248.5 1357.4,1245.5 1362.3,1242.5 1367.2,1239.5 1372.1,1236.4 1377,1233.3 1381.9,1230.1 1386.8,1227 1391.7,1223.8 1396.5,1220.5 1401.4,1217.3 1406.3,1214 1411.2,1210.7 1416.1,1207.4 1421,1204 1425.9,1200.7 1430.8,1197.3 1435.7,1193.9 1440.5,1190.5 1445.4,1187.1 1450.3,1183.6 1455.2,1180.2 1460.1,1176.7 1465,1173.2 1469.9,1169.7 1474.8,1166.3 1479.6,1162.8 1484.5,1159.3 1489.4,1155.8 1494.3,1152.3 1499.2,1148.8 1504.1,1145.3 1509,1141.8 1513.9,1138.3 1518.8,1134.8 1523.6,1131.2 1528.5,1127.7 1533.4,1124.1 1538.3,1120.5 1543.2,1116.8 1548.1,1113.2 1553,1109.5 1557.9,1105.8 1562.7,1102.1 1567.6,1098.4 1572.5,1094.6 1577.4,1090.9 1582.3,1087.1 1587.2,1083.3 1592.1,1079.5 1597,1075.7 1601.9,1071.9 1606.7,1068 1611.6,1064.2 1616.5,1060.3 1621.4,1056.5 1626.3,1052.6 1631.2,1048.7 1636.1,1044.8 1641,1040.9 1645.8,1037 1650.7,1033.1 1655.6,1029.2 1660.5,1025.3 1665.4,1021.4 1670.3,1017.5 1675.2,1013.6 1680.1,1009.6 1685,1005.7 1689.8,1001.8 1694.7,997.9 1699.6,994 1704.5,990.1 1709.4,986.2 1714.3,982.3 1719.2,978.4 1724.1,974.5 1728.9,970.6 1733.8,966.8 1738.7,962.9 1743.6,959.1 1748.5,955.2 1753.4,951.4 1758.3,947.6 1763.2,943.8 1768.1,940 1772.9,936.2 1777.8,932.4 1782.7,928.7 1787.6,924.9 1792.5,921.2 1797.4,917.5 1802.3,913.9 1807.2,910.2 1812,906.5 1816.9,902.9 1821.8,899.3 1826.7,895.8 1831.6,892.2 1836.5,888.7 1841.4,885.2 1846.3,881.7 1851.2,878.3 1856,874.9 1860.9,871.6 1865.8,868.3 1870.7,865 1875.6,861.7 1880.5,858.4 1885.4,855.1 1890.3,851.8 1895.1,848.5 1900,845.2 1904.9,841.8 1909.8,838.4 1914.7,835" fill="none" stroke="#000080" stroke-width="2.2" stroke-linejoin="round" />
<polyline points="1101.4,995 1108,992 1117.6,990.9" fill="none" stroke="#ff00ff" stroke-width="2.2" stroke-linejoin="round" />
<polyline points="1101.4,1173.8 1123.3,1173.8" fill="none" stroke="#0000ff" stroke-width="2.2" stroke-linejoin="round" />
<polyline points="1101.4,1173.8 1111.1,1199.8" fill="none" stroke="#000000" stroke-width="2.2" stroke-linejoin="round" />
<polyline points="1101.4,1220.2 1112,1219 1134.7,1216.9" fill="none" stroke="#ff0000" stroke-width="2.2" stroke-linejoin="round" />
<polyline points="1101.4,908.5 1135.5,908.5" fill="none" stroke="#008000" stroke-width="2.2" stroke-linejoin="round" />
<text transform="translate(1455.9,524.3) scale(0.9966,1)" font-size="33.2" fill="#222" >20</text>
<text transform="translate(1460.9,704.3) scale(0.8573,1)" font-size="33.2" fill="#222" >10</text>
<text transform="translate(1472.8,891.7) scale(1.0736,1)" font-size="28.6" fill="#222" >0</text>
<text transform="translate(1439.8,1083.9) scale(0.9131,1)" font-size="33.8" fill="#222" >−10</text>
<text transform="translate(1445.1,1260.9) scale(0.9391,1)" font-size="33.8" fill="#222" >−20</text>
<text transform="translate(1086.5,918.2) scale(0.8970,1)" font-size="33.7" fill="#222" >−400</text>
<text transform="translate(1276,932) scale(0.9966,1)" font-size="31" fill="#222" >−200</text>
<text transform="translate(1680.8,932.5) scale(1.0720,1)" font-size="31.6" fill="#222" >200</text>
<text transform="translate(1883.4,940.1) scale(1.0404,1)" font-size="29.3" fill="#222" >400</text>
<path d="M231.5,34.2H1937.0V1387.0H231.5Z" fill="none" stroke="#000" stroke-width="6" stroke-linejoin="miter"/>
<line x1="200" y1="1387" x2="231.5" y2="1387" stroke="#000" stroke-width="6" />
<line x1="200" y1="1217.9" x2="231.5" y2="1217.9" stroke="#000" stroke-width="6" />
<line x1="200" y1="1048.8" x2="231.5" y2="1048.8" stroke="#000" stroke-width="6" />
<line x1="200" y1="879.7" x2="231.5" y2="879.7" stroke="#000" stroke-width="6" />
<line x1="200" y1="710.6" x2="231.5" y2="710.6" stroke="#000" stroke-width="6" />
<line x1="200" y1="541.5" x2="231.5" y2="541.5" stroke="#000" stroke-width="6" />
<line x1="200" y1="372.4" x2="231.5" y2="372.4" stroke="#000" stroke-width="6" />
<line x1="200" y1="203.3" x2="231.5" y2="203.3" stroke="#000" stroke-width="6" />
<line x1="200" y1="34.2" x2="231.5" y2="34.2" stroke="#000" stroke-width="6" />
<line x1="214" y1="1302.5" x2="231.5" y2="1302.5" stroke="#000" stroke-width="6" />
<line x1="214" y1="1133.4" x2="231.5" y2="1133.4" stroke="#000" stroke-width="6" />
<line x1="214" y1="964.2" x2="231.5" y2="964.2" stroke="#000" stroke-width="6" />
<line x1="214" y1="795.2" x2="231.5" y2="795.2" stroke="#000" stroke-width="6" />
<line x1="214" y1="626.1" x2="231.5" y2="626.1" stroke="#000" stroke-width="6" />
<line x1="214" y1="456.9" x2="231.5" y2="456.9" stroke="#000" stroke-width="6" />
<line x1="214" y1="287.9" x2="231.5" y2="287.9" stroke="#000" stroke-width="6" />
<line x1="214" y1="118.8" x2="231.5" y2="118.8" stroke="#000" stroke-width="6" />
<line x1="231.5" y1="1387" x2="231.5" y2="1414" stroke="#000" stroke-width="6" />
<line x1="657.9" y1="1387" x2="657.9" y2="1414" stroke="#000" stroke-width="6" />
<line x1="1084.2" y1="1387" x2="1084.2" y2="1414" stroke="#000" stroke-width="6" />
<line x1="1510.6" y1="1387" x2="1510.6" y2="1414" stroke="#000" stroke-width="6" />
<line x1="1937" y1="1387" x2="1937" y2="1414" stroke="#000" stroke-width="6" />
<line x1="444.7" y1="1387" x2="444.7" y2="1405" stroke="#000" stroke-width="6" />
<line x1="871.1" y1="1387" x2="871.1" y2="1405" stroke="#000" stroke-width="6" />
<line x1="1297.4" y1="1387" x2="1297.4" y2="1405" stroke="#000" stroke-width="6" />
<line x1="1723.8" y1="1387" x2="1723.8" y2="1405" stroke="#000" stroke-width="6" />
<text transform="translate(121.1,62) scale(1.0000,1)" font-size="64" fill="#000" >80</text>
<text transform="translate(114.9,224.6) scale(1.0000,1)" font-size="64" fill="#000" >60</text>
<text transform="translate(114.9,396.6) scale(1.0000,1)" font-size="64" fill="#000" >40</text>
<text transform="translate(114.9,558.9) scale(1.0000,1)" font-size="64" fill="#000" >20</text>
<text transform="translate(142.1,733) scale(1.0000,1)" font-size="64" fill="#000" >0</text>
<text transform="translate(93.6,915.2) scale(1.0000,1)" font-size="64" fill="#000" ><tspan dy="5.2">−</tspan><tspan dy="-5.2">20</tspan></text>
<text transform="translate(93,1074.7) scale(1.0000,1)" font-size="64" fill="#000" ><tspan dy="5.2">−</tspan><tspan dy="-5.2">40</tspan></text>
<text transform="translate(88.2,1234.1) scale(1.0000,1)" font-size="64" fill="#000" ><tspan dy="5.2">−</tspan><tspan dy="-5.2">60</tspan></text>
<text transform="translate(81.5,1396.5) scale(1.0000,1)" font-size="64" fill="#000" ><tspan dy="5.2">−</tspan><tspan dy="-5.2">80</tspan></text>
<text transform="translate(176.6,1488.7) scale(0.9875,1)" font-size="64.5" fill="#000" ><tspan dy="5.3">−</tspan><tspan dy="-5.3">20,000</tspan></text>
<text transform="translate(604.3,1486.3) scale(0.9890,1)" font-size="64.7" fill="#000" ><tspan dy="5.3">−</tspan><tspan dy="-5.3">10,000</tspan></text>
<text transform="translate(1068.8,1477.4) scale(1.0137,1)" font-size="64.4" fill="#000" >0</text>
<text transform="translate(1443.6,1486.6) scale(0.9797,1)" font-size="64.8" fill="#000" >10,000</text>
<text transform="translate(1798.1,1491.7) scale(1.0110,1)" font-size="64.5" fill="#000" >20,000</text>
<text transform="translate(894.4,1554.6) scale(1.0255,1)" font-size="69" fill="#000" >Applied Field (Oe)</text>
<text transform="translate(70.6,1091.3) rotate(-90) scale(1.0032,1)" font-size="73">Magnetisation (emu/g)</text>
<g transform="translate(272.9,122.8) scale(0.9982,1)" fill="#000"><text x="-2.7" y="0" font-size="65">Co</text><text transform="translate(73.2,25.2) scale(0.8500,1)" font-size="38">x</text><text x="92.8" y="0" font-size="65">Mn</text><text transform="translate(183.1,25.2) scale(0.8500,1)" font-size="38">1-x</text><text x="229.7" y="0" font-size="65">Fe</text><text transform="translate(294.7,25.2) scale(0.8500,1)" font-size="38">2</text><text x="314.3" y="0" font-size="65">O</text><text transform="translate(361.3,25.2) scale(0.8500,1)" font-size="38">4</text><text x="380.9" y="0" font-size="65"> (x=0, 0.2, 0.4, 0.6, 0.8 and 1)</text></g>
<text transform="translate(945.9,369.9) scale(1.0255,1)" font-size="69.4" fill="#000" >(a)</text>
<rect x="312.1" y="218.3" width="530.9" height="532.7" fill="#fff" stroke="#111" stroke-width="3"/>
<line x1="336" y1="268" x2="487" y2="268" stroke="#000000" stroke-width="5" />
<line x1="336" y1="371" x2="487" y2="371" stroke="#ff0000" stroke-width="5" />
<line x1="336" y1="452" x2="487" y2="452" stroke="#0000ff" stroke-width="5" />
<line x1="336" y1="532" x2="487" y2="532" stroke="#ff00ff" stroke-width="5" />
<line x1="336" y1="614" x2="487" y2="614" stroke="#008000" stroke-width="5" />
<line x1="336" y1="694" x2="487" y2="694" stroke="#000080" stroke-width="5" />
<g transform="translate(504.3,287.7) scale(0.9989,1)" fill="#000"><text x="-2.4" y="0" font-size="63">0 (MnFe</text><text x="216.3" y="25.6" font-size="38">2</text><text x="238.3" y="0" font-size="63">O</text><text x="283.8" y="25.6" font-size="38">4</text><text x="305.8" y="0" font-size="63">)</text></g>
<text transform="translate(501.9,391.5) scale(1.0000,1)" font-size="63" fill="#000" >0.2</text>
<text transform="translate(501.9,472.5) scale(1.0000,1)" font-size="63" fill="#000" >0.4</text>
<text transform="translate(501.9,552.5) scale(1.0000,1)" font-size="63" fill="#000" >0.6</text>
<text transform="translate(501.9,634.5) scale(1.0000,1)" font-size="63" fill="#000" >0.8</text>
<g transform="translate(507.3,714.5) scale(0.9960,1)" fill="#000"><text x="-5.5" y="0" font-size="63">1 (CoFe</text><text x="199.2" y="25.6" font-size="38">2</text><text x="221.2" y="0" font-size="63">O</text><text x="266.7" y="25.6" font-size="38">4</text><text x="288.7" y="0" font-size="63">)</text></g>
<path d="M235.0,1699.4H1949.0V3057.0H235.0Z" fill="none" stroke="#000" stroke-width="6" stroke-linejoin="miter"/>
<line x1="205" y1="2932.7" x2="235" y2="2932.7" stroke="#000" stroke-width="6" />
<line x1="205" y1="2686" x2="235" y2="2686" stroke="#000" stroke-width="6" />
<line x1="205" y1="2439.3" x2="235" y2="2439.3" stroke="#000" stroke-width="6" />
<line x1="205" y1="2192.7" x2="235" y2="2192.7" stroke="#000" stroke-width="6" />
<line x1="205" y1="1946.1" x2="235" y2="1946.1" stroke="#000" stroke-width="6" />
<line x1="205" y1="1699.4" x2="235" y2="1699.4" stroke="#000" stroke-width="6" />
<line x1="218" y1="3056" x2="235" y2="3056" stroke="#000" stroke-width="6" />
<line x1="218" y1="2809.3" x2="235" y2="2809.3" stroke="#000" stroke-width="6" />
<line x1="218" y1="2562.7" x2="235" y2="2562.7" stroke="#000" stroke-width="6" />
<line x1="218" y1="2316" x2="235" y2="2316" stroke="#000" stroke-width="6" />
<line x1="218" y1="2069.4" x2="235" y2="2069.4" stroke="#000" stroke-width="6" />
<line x1="218" y1="1822.7" x2="235" y2="1822.7" stroke="#000" stroke-width="6" />
<line x1="376" y1="3057" x2="376" y2="3086" stroke="#000" stroke-width="6" />
<line x1="661.9" y1="3057" x2="661.9" y2="3086" stroke="#000" stroke-width="6" />
<line x1="947.8" y1="3057" x2="947.8" y2="3086" stroke="#000" stroke-width="6" />
<line x1="1233.7" y1="3057" x2="1233.7" y2="3086" stroke="#000" stroke-width="6" />
<line x1="1519.6" y1="3057" x2="1519.6" y2="3086" stroke="#000" stroke-width="6" />
<line x1="1805.5" y1="3057" x2="1805.5" y2="3086" stroke="#000" stroke-width="6" />
<line x1="233" y1="3057" x2="233" y2="3072" stroke="#000" stroke-width="6" />
<line x1="519" y1="3057" x2="519" y2="3072" stroke="#000" stroke-width="6" />
<line x1="804.9" y1="3057" x2="804.9" y2="3072" stroke="#000" stroke-width="6" />
<line x1="1090.8" y1="3057" x2="1090.8" y2="3072" stroke="#000" stroke-width="6" />
<line x1="1376.7" y1="3057" x2="1376.7" y2="3072" stroke="#000" stroke-width="6" />
<line x1="1662.5" y1="3057" x2="1662.5" y2="3072" stroke="#000" stroke-width="6" />
<line x1="1948.5" y1="3057" x2="1948.5" y2="3072" stroke="#000" stroke-width="6" />
<line x1="385.5" y1="2899" x2="652" y2="2341.1" stroke="#000" stroke-width="4.5" />
<line x1="675.9" y1="2304.6" x2="934.2" y2="2007" stroke="#000" stroke-width="4.5" />
<line x1="969.1" y1="1982.5" x2="1214.5" y2="1887.7" stroke="#000" stroke-width="4.5" />
<line x1="1256.6" y1="1875.5" x2="1499.1" y2="1826.9" stroke="#000" stroke-width="4.5" />
<line x1="1541" y1="1831.2" x2="1785.7" y2="1934.4" stroke="#000" stroke-width="4.5" />
<rect x="361" y="2903.9" width="30" height="30" fill="#000"/>
<rect x="646.5" y="2306.2" width="30" height="30" fill="#000"/>
<rect x="933.6" y="1975.4" width="30" height="30" fill="#000"/>
<rect x="1220" y="1864.8" width="30" height="30" fill="#000"/>
<rect x="1505.7" y="1807.6" width="30" height="30" fill="#000"/>
<rect x="1791" y="1928" width="30" height="30" fill="#000"/>
<text transform="translate(123.3,2947.3) scale(0.9433,1)" font-size="66.8" fill="#000" >45</text>
<text transform="translate(120.7,2700.7) scale(0.9927,1)" font-size="66.1" fill="#000" >50</text>
<text transform="translate(120.7,2454) scale(0.9785,1)" font-size="67.1" fill="#000" >55</text>
<text transform="translate(121.7,2207.4) scale(0.9764,1)" font-size="66.1" fill="#000" >60</text>
<text transform="translate(121.7,1960.7) scale(0.9731,1)" font-size="66.4" fill="#000" >65</text>
<text transform="translate(120.1,1714.1) scale(1.0014,1)" font-size="66.1" fill="#000" >70</text>
<text transform="translate(333.6,3149.4) scale(1.0000,1)" font-size="66.3" fill="#000" >0.0</text>
<text transform="translate(620,3149.4) scale(1.0000,1)" font-size="66.3" fill="#000" >0.2</text>
<text transform="translate(904.6,3149.4) scale(1.0000,1)" font-size="66.3" fill="#000" >0.4</text>
<text transform="translate(1191,3149.4) scale(1.0000,1)" font-size="66.3" fill="#000" >0.6</text>
<text transform="translate(1477.2,3149.4) scale(1.0000,1)" font-size="66.3" fill="#000" >0.8</text>
<text transform="translate(1761.4,3149.4) scale(1.0000,1)" font-size="66.3" fill="#000" >1.0</text>
<text transform="translate(862.2,3209.5) scale(0.9659,1)" font-size="66.5" fill="#000" >Composition</text>
<text transform="translate(86.8,2739.9) rotate(-90) scale(0.9970,1)" font-size="67">Saturation Magnetisation (emu/g)</text>
<g transform="translate(342.6,1789) scale(0.9730,1)" fill="#000"><text x="-2.7" y="0" font-size="67">Co</text><text transform="translate(75.4,23.5) scale(0.8500,1)" font-size="38">x</text><text x="95.1" y="0" font-size="67">Mn</text><text transform="translate(188.2,23.5) scale(0.8500,1)" font-size="38">1-x</text><text x="234.7" y="0" font-size="67">Fe</text><text transform="translate(301.7,23.5) scale(0.8500,1)" font-size="38">2</text><text x="321.4" y="0" font-size="67">O</text><text transform="translate(369.8,23.5) scale(0.8500,1)" font-size="38">4</text><text x="389.4" y="0" font-size="67"> (x=0, 0.2, 0.4, 0.6, 0.8 and 1.0)</text></g>
<text transform="translate(1246.4,2290.4) scale(1.0105,1)" font-size="72.2" fill="#000" >(b)</text>
<g transform="translate(315.7,2999.6) scale(0.9391,1)" fill="#000"><text x="-2" y="0" font-size="68">MnFe</text><text x="160.5" y="23.7" font-size="40">2</text><text x="184" y="0" font-size="68">O</text><text x="233.1" y="23.7" font-size="40">4</text></g>
<g transform="translate(1624.9,2035.4) scale(0.9352,1)" fill="#000"><text x="-2.8" y="0" font-size="67.5">CoFe</text><text x="143.5" y="24" font-size="40">2</text><text x="167" y="0" font-size="67.5">O</text><text x="215.7" y="24" font-size="40">4</text></g>
</svg></body></html>
